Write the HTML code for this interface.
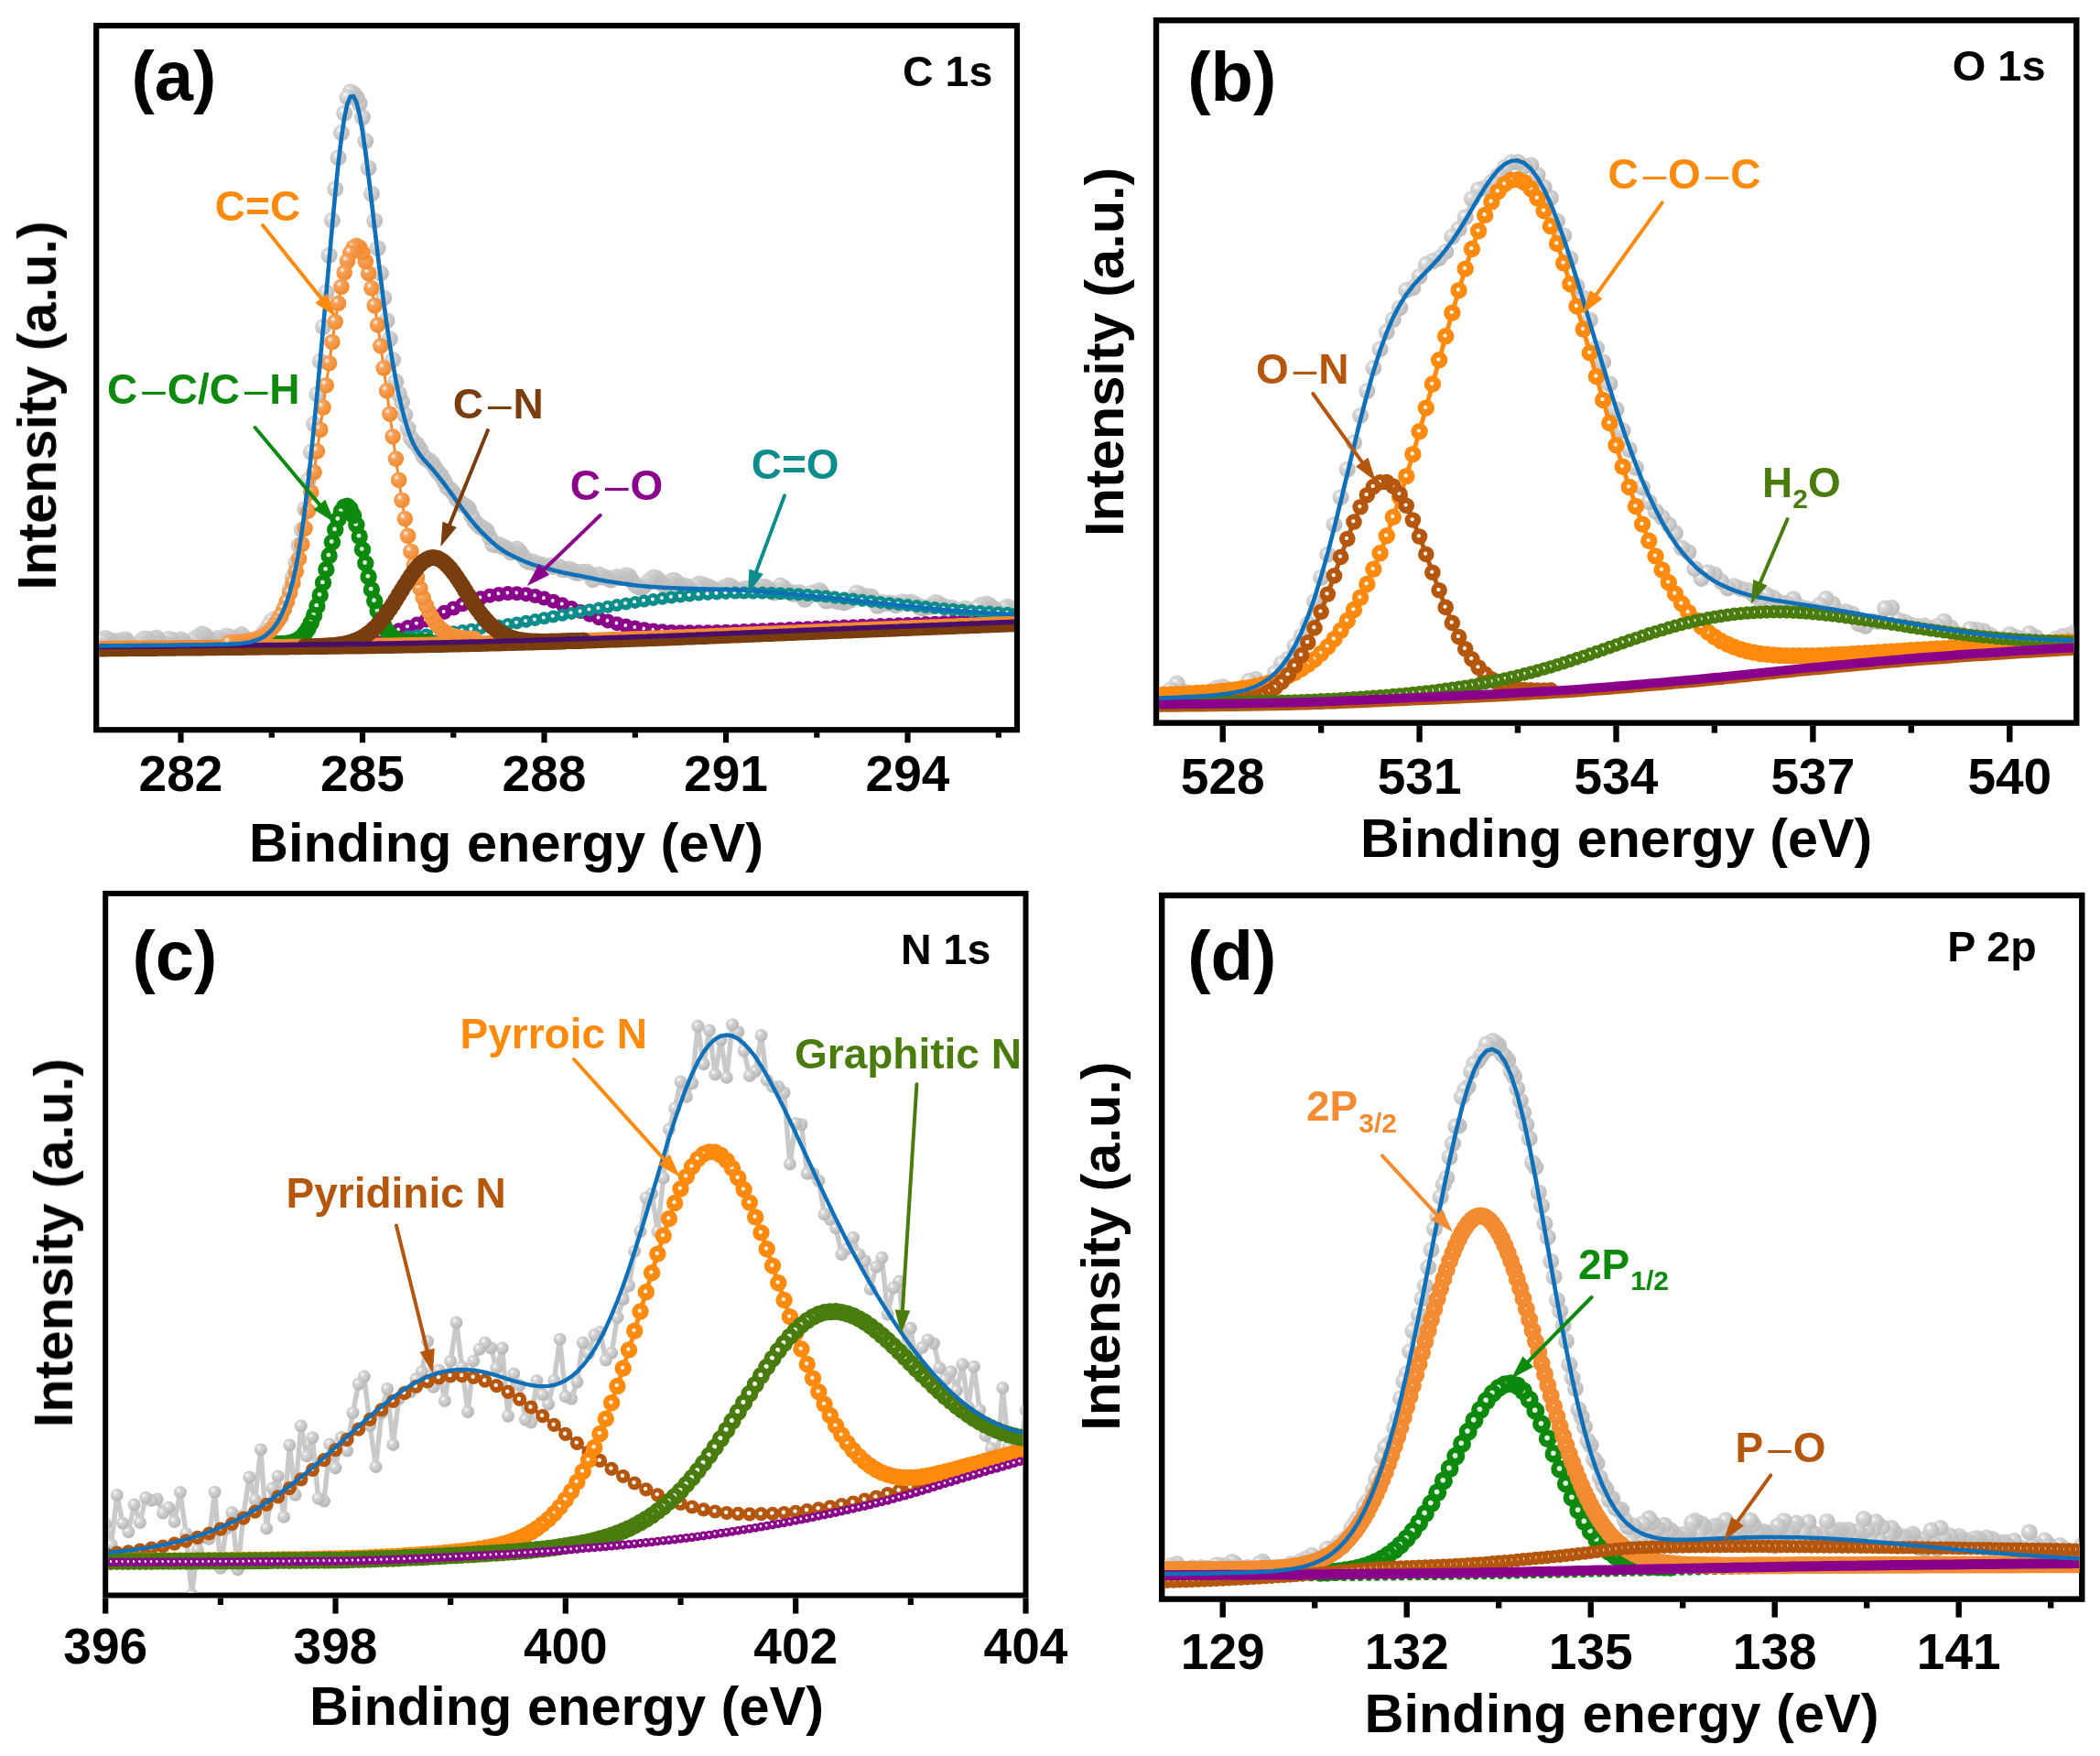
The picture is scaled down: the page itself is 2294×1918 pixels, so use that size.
<!DOCTYPE html>
<html lang="en"><head><meta charset="utf-8"><title>XPS spectra</title>
<style>html,body{margin:0;padding:0;background:#fff}svg{display:block}</style></head>
<body>
<svg width="2294" height="1918" viewBox="0 0 2294 1918" font-family="'Liberation Sans', sans-serif" font-weight="bold">
<rect width="2294" height="1918" fill="#fff"/>
<defs>
<radialGradient id="gsgrey" cx="0.36" cy="0.34" r="0.62"><stop offset="0" stop-color="#ffffff"/><stop offset="0.28" stop-color="#d8d8d8"/><stop offset="1" stop-color="#bcbcbc"/></radialGradient>
<marker id="sgrey" markerUnits="userSpaceOnUse" markerWidth="18" markerHeight="18" refX="9" refY="9" viewBox="0 0 18 18" overflow="visible"><circle cx="9" cy="9" r="9" fill="url(#gsgrey)"/></marker>
<radialGradient id="gsgreyS" cx="0.36" cy="0.34" r="0.62"><stop offset="0" stop-color="#ffffff"/><stop offset="0.28" stop-color="#d6d6d6"/><stop offset="1" stop-color="#b8b8b8"/></radialGradient>
<marker id="sgreyS" markerUnits="userSpaceOnUse" markerWidth="14" markerHeight="14" refX="7" refY="7" viewBox="0 0 14 14" overflow="visible"><circle cx="7" cy="7" r="7" fill="url(#gsgreyS)"/></marker>
<radialGradient id="gsorA" cx="0.36" cy="0.34" r="0.62"><stop offset="0" stop-color="#ffffff"/><stop offset="0.28" stop-color="#f5a25c"/><stop offset="1" stop-color="#f28b30"/></radialGradient>
<marker id="sorA" markerUnits="userSpaceOnUse" markerWidth="17.6" markerHeight="17.6" refX="8.8" refY="8.8" viewBox="0 0 17.6 17.6" overflow="visible"><circle cx="8.8" cy="8.8" r="8.8" fill="url(#gsorA)"/></marker>
<marker id="rorB" markerUnits="userSpaceOnUse" markerWidth="18.4" markerHeight="18.4" refX="9.2" refY="9.2" viewBox="0 0 18.4 18.4" overflow="visible"><circle cx="9.2" cy="9.2" r="9.2" fill="#ff8a0a"/><circle cx="8.5" cy="8.5" r="2.1" fill="#fff"/></marker>
<marker id="rbrB" markerUnits="userSpaceOnUse" markerWidth="17.6" markerHeight="17.6" refX="8.8" refY="8.8" viewBox="0 0 17.6 17.6" overflow="visible"><circle cx="8.8" cy="8.8" r="8.8" fill="#b5560f"/><circle cx="8.1" cy="8.1" r="2.1" fill="#fff"/></marker>
<marker id="rbrBs" markerUnits="userSpaceOnUse" markerWidth="15.2" markerHeight="15.2" refX="7.6" refY="7.6" viewBox="0 0 15.2 15.2" overflow="visible"><circle cx="7.6" cy="7.6" r="7.6" fill="#b5560f"/><circle cx="6.9" cy="6.9" r="2.2" fill="#fff"/></marker>
<marker id="rolv" markerUnits="userSpaceOnUse" markerWidth="14.6" markerHeight="14.6" refX="7.3" refY="7.3" viewBox="0 0 14.6 14.6" overflow="visible"><circle cx="7.3" cy="7.3" r="7.3" fill="#4a7c10"/><circle cx="6.6" cy="6.6" r="1.9" fill="#fff"/></marker>
<marker id="rolvC" markerUnits="userSpaceOnUse" markerWidth="19" markerHeight="19" refX="9.5" refY="9.5" viewBox="0 0 19 19" overflow="visible"><circle cx="9.5" cy="9.5" r="9.5" fill="#4a7c10"/><circle cx="8.8" cy="8.8" r="2.5" fill="#fff"/></marker>
<marker id="rgrA" markerUnits="userSpaceOnUse" markerWidth="18.4" markerHeight="18.4" refX="9.2" refY="9.2" viewBox="0 0 18.4 18.4" overflow="visible"><circle cx="9.2" cy="9.2" r="9.2" fill="#0a8a0a"/><circle cx="8.5" cy="8.5" r="2.4" fill="#e4f3e4"/></marker>
<marker id="rgrD" markerUnits="userSpaceOnUse" markerWidth="20" markerHeight="20" refX="10" refY="10" viewBox="0 0 20 20" overflow="visible"><circle cx="10" cy="10" r="10" fill="#0a8a0a"/><circle cx="9.3" cy="9.3" r="2.8" fill="#e4f3e4"/></marker>
<marker id="rbrA" markerUnits="userSpaceOnUse" markerWidth="18" markerHeight="18" refX="9" refY="9" viewBox="0 0 18 18" overflow="visible"><circle cx="9" cy="9" r="9" fill="#7a3e0c"/><circle cx="8.3" cy="8.3" r="0.6" fill="#c9a78c"/></marker>
<marker id="rpur" markerUnits="userSpaceOnUse" markerWidth="16" markerHeight="16" refX="8" refY="8" viewBox="0 0 16 16" overflow="visible"><circle cx="8" cy="8" r="8" fill="#8b068b"/><circle cx="7.3" cy="7.3" r="2" fill="#fff"/></marker>
<marker id="rpurS" markerUnits="userSpaceOnUse" markerWidth="9.8" markerHeight="9.8" refX="4.9" refY="4.9" viewBox="0 0 9.8 9.8" overflow="visible"><circle cx="4.9" cy="4.9" r="4.9" fill="#8b068b"/><circle cx="4.2" cy="4.2" r="1.5" fill="#fff"/></marker>
<marker id="rteal" markerUnits="userSpaceOnUse" markerWidth="14" markerHeight="14" refX="7" refY="7" viewBox="0 0 14 14" overflow="visible"><circle cx="7" cy="7" r="7" fill="#0a8c8c"/><circle cx="6.3" cy="6.3" r="2" fill="#fff"/></marker>
<marker id="rorA" markerUnits="userSpaceOnUse" markerWidth="19" markerHeight="19" refX="9.5" refY="9.5" viewBox="0 0 19 19" overflow="visible"><circle cx="9.5" cy="9.5" r="9.5" fill="#f28b30"/><circle cx="8.8" cy="8.8" r="0.9" fill="#fbe3cf"/></marker>
<marker id="rbrD" markerUnits="userSpaceOnUse" markerWidth="14.6" markerHeight="14.6" refX="7.3" refY="7.3" viewBox="0 0 14.6 14.6" overflow="visible"><circle cx="7.3" cy="7.3" r="7.3" fill="#b5560f"/><circle cx="6.6" cy="6.6" r="1.9" fill="#fff"/></marker>
<filter id="soft" filterUnits="userSpaceOnUse" x="0" y="0" width="2294" height="1918"><feGaussianBlur stdDeviation="0.75"/></filter>
</defs>
<g filter="url(#soft)">
<g id="panel-a">
<rect x="105.2" y="28" width="1005.8" height="769.2" fill="#fff" stroke="#000" stroke-width="6.2"/>
<clipPath id="clipA"><rect x="108.2" y="31" width="999.8" height="763.2"/></clipPath>
<g clip-path="url(#clipA)">
<polyline points="1110.6,667.2 1107.3,669.1 1104,666.2 1100.7,662.4 1097.4,664.2 1094.1,669.7 1090.8,670.2 1087.5,665.9 1084.2,663.7 1080.9,661 1077.6,659.6 1074.3,660.8 1070.9,661 1067.6,663.8 1064.3,670 1061,670.8 1057.7,666.9 1054.4,664.4 1051.1,666.5 1047.8,671.8 1044.5,670.1 1041.2,664.3 1037.9,663.4 1034.6,663.7 1031.2,662.3 1027.9,661 1024.6,658.8 1021.3,658 1018,661.2 1014.7,663.1 1011.4,663.1 1008.1,664.5 1004.8,663.6 1001.5,660.7 998.2,659.3 994.8,657.4 991.5,658.3 988.2,658.5 984.9,657.2 981.6,660.2 978.3,661.2 975,659.1 971.7,658.6 968.4,659 965.1,658 961.8,660.2 958.5,661.8 955.1,655.5 951.8,651.5 948.5,651.4 945.2,651.2 941.9,651.9 938.6,648.6 935.3,647.8 932,653.6 928.7,655.6 925.4,656.9 922.1,658.4 918.8,657.2 915.4,657.2 912.1,656 908.8,654 905.5,656 902.2,656.4 898.9,649.7 895.6,645 892.3,646.2 889,647.2 885.7,647.9 882.4,651.7 879.1,654.8 875.7,650.8 872.4,646.7 869.1,648.4 865.8,648.7 862.5,646.5 859.2,645.9 855.9,641.8 852.6,639.5 849.3,644.6 846,647.4 842.7,646.4 839.3,643.2 836,640.9 832.7,640.7 829.4,641.5 826.1,642.7 822.8,643.7 819.5,644.7 816.2,642.9 812.9,643.1 809.6,645 806.3,644.6 803,644.2 799.6,641 796.3,639.2 793,640.6 789.7,641.9 786.4,644.6 783.1,646 779.8,644.3 776.5,642.1 773.2,640.5 769.9,639.6 766.6,638.3 763.3,637.6 759.9,640 756.6,644.8 753.3,644.8 750,640.2 746.7,639.4 743.4,639.9 740.1,636.8 736.8,633.8 733.5,634.3 730.2,637 726.9,639.4 723.6,638.2 720.2,634.3 716.9,631.3 713.6,630.8 710.3,633.6 707,636.3 703.7,639.9 700.4,642.4 697.1,641.1 693.8,638.8 690.5,634.5 687.2,629.3 683.8,628.3 680.5,630.6 677.2,631.2 673.9,630.1 670.6,631.2 667.3,633.6 664,631.9 660.7,630.2 657.4,630.4 654.1,627.4 650.8,630.1 647.5,633.2 644.1,627.1 640.8,624.5 637.5,624.9 634.2,624.7 630.9,626.1 627.6,625 624.3,622.3 621,621.4 617.7,622.2 614.4,622 611.1,619.2 607.8,618.1 604.4,619 601.1,617.8 597.8,618.4 594.5,618.8 591.2,616.6 587.9,616.3 584.6,615.1 581.3,613.3 578,613.8 574.7,612.1 571.4,607.9 568.1,602.9 564.7,599.6 561.4,601.7 558.1,603.4 554.8,600 551.5,597.7 548.2,596.8 544.9,594.7 541.6,595.5 538.3,594.6 535,587 531.7,579.8 528.4,577.2 525,575.8 521.7,572.9 518.4,569.5 515.1,563.3 511.8,555.3 508.5,552.5 505.2,551 501.9,547.8 498.6,544.3 495.3,538.3 492,534.7 488.6,532.2 485.3,525.7 482,519.7 478.7,516.2 475.4,511.3 472.1,506.2 468.8,502.9 465.5,501.5 462.2,497.9 458.9,490.9 455.6,485.6 452.3,483 448.9,478.3 445.6,468.1 442.3,453.1 439,439.1 435.7,430.2 432.4,416.8 429.1,393.1 425.8,370.2 422.5,350.2 419.2,325.4 415.9,298.5 412.6,271.2 409.2,241.1 405.9,211.7 402.6,183.7 399.3,154 396,128.1 392.7,113.1 389.4,106.2 386.1,102.3 382.8,100.4 379.5,106.3 376.2,123.7 372.9,145 369.5,172.2 366.2,206.4 362.9,240.6 359.6,278.8 356.3,319.4 353,356.9 349.7,394.5 346.4,430.6 343.1,463.1 339.8,493.8 336.5,524.8 333.1,555.9 329.8,578.6 326.5,595.7 323.2,614.8 319.9,630.4 316.6,643.9 313.3,657 310,665.7 306.7,674 303.4,677.4 300.1,676.1 296.8,678.2 293.4,683.4 290.1,688.9 286.8,692.8 283.5,698.2 280.2,701.9 276.9,702.2 273.6,702.5 270.3,701.6 267,696.5 263.7,693.1 260.4,695.6 257.1,696.8 253.7,696.5 250.4,695.6 247.1,694.5 243.8,698 240.5,699.5 237.2,696.9 233.9,699.5 230.6,701.9 227.3,698.2 224,693.9 220.7,692.3 217.4,694.8 214,696.6 210.7,699.4 207.4,705.3 204.1,705 200.8,700.3 197.5,698.5 194.2,700.4 190.9,701.6 187.6,698.8 184.3,697.9 181,702.4 177.6,705.1 174.3,701.1 171,696.6 167.7,698.3 164.4,700.5 161.1,698 157.8,697.6 154.5,699.8 151.2,703.3 147.9,707.1 144.6,707.1 141.3,703.3 137.9,698.8 134.6,698.7 131.3,700.2 128,700 124.7,700.3 121.4,700.4 118.1,698.3 114.8,696.9 111.5,700.3 108.2,705.4 104.9,707.1" fill="none" stroke="#c6c6c6" stroke-width="3" stroke-linejoin="round" marker-start="url(#sgrey)" marker-mid="url(#sgrey)" marker-end="url(#sgrey)"/>
<polyline points="1110.6,677.2 1100.7,677.6 1090.8,678 1080.9,678.3 1070.9,678.7 1061,679.1 1051.1,679.5 1041.2,679.9 1031.2,680.3 1021.3,680.7 1011.4,681.1 1001.5,681.5 991.5,681.9 981.6,682.3 971.7,682.7 961.8,683 951.8,683.4 941.9,683.8 932,684.2 922.1,684.6 912.1,685 902.2,685.4 892.3,685.8 882.4,686.2 872.4,686.6 862.5,687 852.6,687.4 842.7,687.8 832.7,688.2 822.8,688.6 812.9,689 803,689.4 793,689.7 783.1,690 773.2,690.2 763.3,690.3 753.3,690.3 743.4,690.2 733.5,689.9 723.6,689.3 713.6,688.4 703.7,687.2 693.8,685.6 683.8,683.6 673.9,681.2 664,678.4 654.1,675.2 644.1,671.7 634.2,667.9 624.3,664.1 614.4,660.3 604.4,656.7 594.5,653.6 584.6,651 574.7,649.2 564.7,648.2 554.8,648.1 544.9,649 535,650.7 525,653.3 515.1,656.5 505.2,660.3 495.3,664.5 485.3,668.8 475.4,673.2 465.5,677.4 455.6,681.4 445.6,685 435.7,688.3 425.8,691.1 415.9,693.5" fill="none" stroke="#8b068b" stroke-width="3" stroke-linejoin="round" marker-start="url(#rpur)" marker-mid="url(#rpur)" marker-end="url(#rpur)"/>
<polyline points="1110.6,670.1 1100.7,669.7 1090.8,669.2 1080.9,668.6 1070.9,668 1061,667.4 1051.1,666.6 1041.2,665.8 1031.2,665 1021.3,664.1 1011.4,663.1 1001.5,662.1 991.5,661.1 981.6,660 971.7,659 961.8,657.9 951.8,656.8 941.9,655.7 932,654.6 922.1,653.6 912.1,652.6 902.2,651.6 892.3,650.8 882.4,650 872.4,649.3 862.5,648.7 852.6,648.2 842.7,647.8 832.7,647.6 822.8,647.5 812.9,647.5 803,647.6 793,647.9 783.1,648.4 773.2,648.9 763.3,649.6 753.3,650.5 743.4,651.5 733.5,652.5 723.6,653.8 713.6,655.1 703.7,656.5 693.8,657.9 683.8,659.5 673.9,661.1 664,662.8 654.1,664.6 644.1,666.3 634.2,668.1 624.3,669.9 614.4,671.7 604.4,673.5 594.5,675.3 584.6,677.1 574.7,678.8 564.7,680.4 554.8,682 544.9,683.5 535,685 525,686.4 515.1,687.8 505.2,689 495.3,690.2 485.3,691.4 475.4,692.4 465.5,693.4 455.6,694.3 445.6,695.2" fill="none" stroke="#0a8c8c" stroke-width="3" stroke-linejoin="round" marker-start="url(#rteal)" marker-mid="url(#rteal)" marker-end="url(#rteal)"/>
<polyline points="104.9,709 108.2,708.9 111.5,708.9 114.8,708.9 118.1,708.8 121.4,708.8 124.7,708.8 128,708.8 131.3,708.7 134.6,708.7 137.9,708.7 141.3,708.6 144.6,708.6 147.9,708.6 151.2,708.5 154.5,708.5 157.8,708.5 161.1,708.5 164.4,708.4 167.7,708.4 171,708.4 174.3,708.3 177.6,708.3 181,708.3 184.3,708.2 187.6,708.2 190.9,708.2 194.2,708.1 197.5,708.1 200.8,708.1 204.1,708 207.4,708 210.7,708 214,707.9 217.4,707.9 220.7,707.9 224,707.8 227.3,707.8 230.6,707.8 233.9,707.7 237.2,707.7 240.5,707.6 243.8,707.6 247.1,707.6 250.4,707.5 253.7,707.5 257.1,707.5 260.4,707.4 263.7,707.4 267,707.4 270.3,707.3 273.6,707.3 276.9,707.3 280.2,707.2 283.5,707.2 286.8,707.1 290.1,707.1 293.4,707.1 296.8,707 300.1,707 303.4,707 306.7,706.9 310,706.9 313.3,706.9 316.6,706.8 319.9,706.8 323.2,706.7 326.5,706.7 329.8,706.7 333.1,706.6 336.5,706.6 339.8,706.6 343.1,706.5 346.4,706.5 349.7,706.4 353,706.4 356.3,706.4 359.6,706.3 362.9,706.3 366.2,706.2 369.5,706.2 372.9,706.2 376.2,706.1 379.5,706.1 382.8,706 386.1,706 389.4,705.9 392.7,705.9 396,705.9 399.3,705.8 402.6,705.8 405.9,705.7 409.2,705.7 412.6,705.6 415.9,705.6 419.2,705.5 422.5,705.5 425.8,705.4 429.1,705.4 432.4,705.3 435.7,705.2 439,705.2 442.3,705.1 445.6,705.1 448.9,705 452.3,704.9 455.6,704.9 458.9,704.8 462.2,704.8 465.5,704.7 468.8,704.6 472.1,704.6 475.4,704.5 478.7,704.4 482,704.4 485.3,704.3 488.6,704.2 492,704.1 495.3,704.1 498.6,704 501.9,703.9 505.2,703.8 508.5,703.8 511.8,703.7 515.1,703.6 518.4,703.5 521.7,703.5 525,703.4 528.4,703.3 531.7,703.2 535,703.1 538.3,703 541.6,703 544.9,702.9 548.2,702.8 551.5,702.7 554.8,702.6 558.1,702.5 561.4,702.4 564.7,702.3 568.1,702.2 571.4,702.2 574.7,702.1 578,702 581.3,701.9 584.6,701.8 587.9,701.7 591.2,701.6 594.5,701.5 597.8,701.4 601.1,701.3 604.4,701.2 607.8,701.1 611.1,701 614.4,700.9 617.7,700.8 621,700.6 624.3,700.5 627.6,700.4 630.9,700.3 634.2,700.2 637.5,700.1 640.8,700 644.1,699.9 647.5,699.8 650.8,699.7 654.1,699.6 657.4,699.5 660.7,699.3 664,699.2 667.3,699.1 670.6,699 673.9,698.9 677.2,698.8 680.5,698.7 683.8,698.6 687.2,698.4 690.5,698.3 693.8,698.2 697.1,698.1 700.4,698 703.7,697.9 707,697.8 710.3,697.6 713.6,697.5 716.9,697.4 720.2,697.3 723.6,697.2 726.9,697 730.2,696.9 733.5,696.8 736.8,696.7 740.1,696.5 743.4,696.4 746.7,696.3 750,696.1 753.3,696 756.6,695.9 759.9,695.8 763.3,695.6 766.6,695.5 769.9,695.4 773.2,695.2 776.5,695.1 779.8,695 783.1,694.8 786.4,694.7 789.7,694.6 793,694.4 796.3,694.3 799.6,694.1 803,694 806.3,693.9 809.6,693.7 812.9,693.6 816.2,693.5 819.5,693.3 822.8,693.2 826.1,693 829.4,692.9 832.7,692.8 836,692.6 839.3,692.5 842.7,692.4 846,692.2 849.3,692.1 852.6,691.9 855.9,691.8 859.2,691.7 862.5,691.5 865.8,691.4 869.1,691.3 872.4,691.1 875.7,691 879.1,690.8 882.4,690.7 885.7,690.6 889,690.4 892.3,690.3 895.6,690.2 898.9,690 902.2,689.9 905.5,689.8 908.8,689.6 912.1,689.5 915.4,689.4 918.8,689.3 922.1,689.1 925.4,689 928.7,688.9 932,688.7 935.3,688.6 938.6,688.5 941.9,688.3 945.2,688.2 948.5,688.1 951.8,687.9 955.1,687.8 958.5,687.7 961.8,687.5 965.1,687.4 968.4,687.3 971.7,687.2 975,687 978.3,686.9 981.6,686.8 984.9,686.6 988.2,686.5 991.5,686.4 994.8,686.2 998.2,686.1 1001.5,686 1004.8,685.8 1008.1,685.7 1011.4,685.6 1014.7,685.5 1018,685.3 1021.3,685.2 1024.6,685.1 1027.9,684.9 1031.2,684.8 1034.6,684.7 1037.9,684.5 1041.2,684.4 1044.5,684.3 1047.8,684.1 1051.1,684 1054.4,683.9 1057.7,683.8 1061,683.6 1064.3,683.5 1067.6,683.4 1070.9,683.2 1074.3,683.1 1077.6,683 1080.9,682.8 1084.2,682.7 1087.5,682.6 1090.8,682.5 1094.1,682.3 1097.4,682.2 1100.7,682.1 1104,681.9 1107.3,681.8 1110.6,681.7" fill="none" stroke="#0a8a0a" stroke-width="6" stroke-linejoin="round" stroke-linecap="round" />
<polyline points="468.8,701.1 465.5,701.2 462.2,701.2 458.9,701.3 455.6,701.3 452.3,701.3 448.9,701.2 445.6,701 442.3,700.7 439,700.2 435.7,699.3 432.4,697.9 429.1,695.8 425.8,692.8 422.5,688.7 419.2,683.2 415.9,676 412.6,667.1 409.2,656.4 405.9,643.9 402.6,630 399.3,615.2 396,600.3 392.7,585.9 389.4,573.2 386.1,562.9 382.8,555.9 379.5,552.7 376.2,553.6 372.9,558.5 369.5,567.1 366.2,578.6 362.9,592.2 359.6,606.9 356.3,622 353,636.6 349.7,650 346.4,661.9 343.1,672 339.8,680.2 336.5,686.8 333.1,691.8 329.8,695.5 326.5,698.1 323.2,700 319.9,701.3 316.6,702.1 313.3,702.6 310,703 306.7,703.2 303.4,703.3 300.1,703.4" fill="none" stroke="#0a8a0a" stroke-width="4" stroke-linejoin="round" marker-start="url(#rgrA)" marker-mid="url(#rgrA)" marker-end="url(#rgrA)"/>
<polyline points="104.9,702.5 108.2,702.4 111.5,702.4 114.8,702.4 118.1,702.3 121.4,702.3 124.7,702.3 128,702.3 131.3,702.2 134.6,702.2 137.9,702.2 141.3,702.1 144.6,702.1 147.9,702.1 151.2,702 154.5,702 157.8,702 161.1,702 164.4,701.9 167.7,701.9 171,701.9 174.3,701.8 177.6,701.8 181,701.8 184.3,701.7 187.6,701.7 190.9,701.7 194.2,701.6 197.5,701.6 200.8,701.6 204.1,701.5 207.4,701.5 210.7,701.5 214,701.4 217.4,701.4 220.7,701.4 224,701.3 227.3,701.3 230.6,701.3 233.9,701.2 237.2,701.2 240.5,701.1 243.8,701.1 247.1,701.1 250.4,701 253.7,701 257.1,701 260.4,700.9 263.7,700.9 267,700.9 270.3,700.8 273.6,700.8 276.9,700.8 280.2,700.7 283.5,700.7 286.8,700.6 290.1,700.6 293.4,700.6 296.8,700.5 300.1,700.5 303.4,700.5 306.7,700.4 310,700.4 313.3,700.4 316.6,700.3 319.9,700.3 323.2,700.2 326.5,700.2 329.8,700.2 333.1,700.1 336.5,700.1 339.8,700.1 343.1,700 346.4,700 349.7,699.9 353,699.9 356.3,699.9 359.6,699.8 362.9,699.8 366.2,699.7 369.5,699.7 372.9,699.7 376.2,699.6 379.5,699.6 382.8,699.5 386.1,699.5 389.4,699.4 392.7,699.4 396,699.4 399.3,699.3 402.6,699.3 405.9,699.2 409.2,699.2 412.6,699.1 415.9,699.1 419.2,699 422.5,699 425.8,698.9 429.1,698.9 432.4,698.8 435.7,698.7 439,698.7 442.3,698.6 445.6,698.6 448.9,698.5 452.3,698.4 455.6,698.4 458.9,698.3 462.2,698.3 465.5,698.2 468.8,698.1 472.1,698.1 475.4,698 478.7,697.9 482,697.9 485.3,697.8 488.6,697.7 492,697.6 495.3,697.6 498.6,697.5 501.9,697.4 505.2,697.3 508.5,697.3 511.8,697.2 515.1,697.1 518.4,697 521.7,697 525,696.9 528.4,696.8 531.7,696.7 535,696.6 538.3,696.5 541.6,696.5 544.9,696.4 548.2,696.3 551.5,696.2 554.8,696.1 558.1,696 561.4,695.9 564.7,695.8 568.1,695.7 571.4,695.7 574.7,695.6 578,695.5 581.3,695.4 584.6,695.3 587.9,695.2 591.2,695.1 594.5,695 597.8,694.9 601.1,694.8 604.4,694.7 607.8,694.6 611.1,694.5 614.4,694.4 617.7,694.3 621,694.1 624.3,694 627.6,693.9 630.9,693.8 634.2,693.7 637.5,693.6 640.8,693.5 644.1,693.4 647.5,693.3 650.8,693.2 654.1,693.1 657.4,693 660.7,692.8 664,692.7 667.3,692.6 670.6,692.5 673.9,692.4 677.2,692.3 680.5,692.2 683.8,692.1 687.2,691.9 690.5,691.8 693.8,691.7 697.1,691.6 700.4,691.5 703.7,691.4 707,691.3 710.3,691.1 713.6,691 716.9,690.9 720.2,690.8 723.6,690.7 726.9,690.5 730.2,690.4 733.5,690.3 736.8,690.2 740.1,690 743.4,689.9 746.7,689.8 750,689.6 753.3,689.5 756.6,689.4 759.9,689.3 763.3,689.1 766.6,689 769.9,688.9 773.2,688.7 776.5,688.6 779.8,688.5 783.1,688.3 786.4,688.2 789.7,688.1 793,687.9 796.3,687.8 799.6,687.6 803,687.5 806.3,687.4 809.6,687.2 812.9,687.1 816.2,687 819.5,686.8 822.8,686.7 826.1,686.5 829.4,686.4 832.7,686.3 836,686.1 839.3,686 842.7,685.9 846,685.7 849.3,685.6 852.6,685.4 855.9,685.3 859.2,685.2 862.5,685 865.8,684.9 869.1,684.8 872.4,684.6 875.7,684.5 879.1,684.3 882.4,684.2 885.7,684.1 889,683.9 892.3,683.8 895.6,683.7 898.9,683.5 902.2,683.4 905.5,683.3 908.8,683.1 912.1,683 915.4,682.9 918.8,682.8 922.1,682.6 925.4,682.5 928.7,682.4 932,682.2 935.3,682.1 938.6,682 941.9,681.8 945.2,681.7 948.5,681.6 951.8,681.4 955.1,681.3 958.5,681.2 961.8,681 965.1,680.9 968.4,680.8 971.7,680.7 975,680.5 978.3,680.4 981.6,680.3 984.9,680.1 988.2,680 991.5,679.9 994.8,679.7 998.2,679.6 1001.5,679.5 1004.8,679.3 1008.1,679.2 1011.4,679.1 1014.7,679 1018,678.8 1021.3,678.7 1024.6,678.6 1027.9,678.4 1031.2,678.3 1034.6,678.2 1037.9,678 1041.2,677.9 1044.5,677.8 1047.8,677.6 1051.1,677.5 1054.4,677.4 1057.7,677.3 1061,677.1 1064.3,677 1067.6,676.9 1070.9,676.7 1074.3,676.6 1077.6,676.5 1080.9,676.3 1084.2,676.2 1087.5,676.1 1090.8,676 1094.1,675.8 1097.4,675.7 1100.7,675.6 1104,675.4 1107.3,675.3 1110.6,675.2" fill="none" stroke="#f28b30" stroke-width="5" stroke-linejoin="round" stroke-linecap="round" />
<polyline points="518.4,697.6 515.1,697.6 511.8,697.4 508.5,697.2 505.2,696.8 501.9,696.3 498.6,695.6 495.3,694.7 492,693.5 488.6,691.9 485.3,689.8 482,687.2 478.7,683.9 475.4,679.8 472.1,674.8 468.8,668.7 465.5,661.4 462.2,652.8 458.9,642.6 455.6,630.9 452.3,617.5 448.9,602.3 445.6,585.3 442.3,566.6 439,546.2 435.7,524.3 432.4,501.1 429.1,476.9 425.8,452.1 422.5,426.9 419.2,402 415.9,377.9 412.6,354.9 409.2,333.7 405.9,314.7 402.6,298.6 399.3,285.5 396,276 392.7,270.3 389.4,268.4 386.1,270.5 382.8,276.1 379.5,285.3 376.2,297.8 372.9,313.2 369.5,331.3 366.2,351.5 362.9,373.5 359.6,396.7 356.3,420.7 353,445 349.7,469.2 346.4,492.9 343.1,515.8 339.8,537.6 336.5,558.1 333.1,577.1 329.8,594.5 326.5,610.2 323.2,624.3 319.9,636.8 316.6,647.8 313.3,657.2 310,665.4 306.7,672.3 303.4,678 300.1,682.9 296.8,686.8 293.4,690.1 290.1,692.7 286.8,694.8 283.5,696.5 280.2,697.8 276.9,698.8 273.6,699.6 270.3,700.2 267,700.7 263.7,701 260.4,701.3 257.1,701.5 253.7,701.7 250.4,701.8" fill="none" stroke="#f28b30" stroke-width="3" stroke-linejoin="round" marker-start="url(#sorA)" marker-mid="url(#sorA)" marker-end="url(#sorA)"/>
<polyline points="104.9,711.5 108.2,711.4 111.5,711.4 114.8,711.4 118.1,711.3 121.4,711.3 124.7,711.3 128,711.3 131.3,711.2 134.6,711.2 137.9,711.2 141.3,711.1 144.6,711.1 147.9,711.1 151.2,711 154.5,711 157.8,711 161.1,711 164.4,710.9 167.7,710.9 171,710.9 174.3,710.8 177.6,710.8 181,710.8 184.3,710.7 187.6,710.7 190.9,710.7 194.2,710.6 197.5,710.6 200.8,710.6 204.1,710.5 207.4,710.5 210.7,710.5 214,710.4 217.4,710.4 220.7,710.4 224,710.3 227.3,710.3 230.6,710.3 233.9,710.2 237.2,710.2 240.5,710.1 243.8,710.1 247.1,710.1 250.4,710 253.7,710 257.1,710 260.4,709.9 263.7,709.9 267,709.9 270.3,709.8 273.6,709.8 276.9,709.8 280.2,709.7 283.5,709.7 286.8,709.6 290.1,709.6 293.4,709.6 296.8,709.5 300.1,709.5 303.4,709.5 306.7,709.4 310,709.4 313.3,709.4 316.6,709.3 319.9,709.3 323.2,709.2 326.5,709.2 329.8,709.2 333.1,709.1 336.5,709.1 339.8,709.1 343.1,709 346.4,709 349.7,708.9 353,708.9 356.3,708.9 359.6,708.8 362.9,708.8 366.2,708.7 369.5,708.7 372.9,708.7 376.2,708.6 379.5,708.6 382.8,708.5 386.1,708.5 389.4,708.4 392.7,708.4 396,708.4 399.3,708.3 402.6,708.3 405.9,708.2 409.2,708.2 412.6,708.1 415.9,708.1 419.2,708 422.5,708 425.8,707.9 429.1,707.9 432.4,707.8 435.7,707.7 439,707.7 442.3,707.6 445.6,707.6 448.9,707.5 452.3,707.4 455.6,707.4 458.9,707.3 462.2,707.3 465.5,707.2 468.8,707.1 472.1,707.1 475.4,707 478.7,706.9 482,706.9 485.3,706.8 488.6,706.7 492,706.6 495.3,706.6 498.6,706.5 501.9,706.4 505.2,706.3 508.5,706.3 511.8,706.2 515.1,706.1 518.4,706 521.7,706 525,705.9 528.4,705.8 531.7,705.7 535,705.6 538.3,705.5 541.6,705.5 544.9,705.4 548.2,705.3 551.5,705.2 554.8,705.1 558.1,705 561.4,704.9 564.7,704.8 568.1,704.7 571.4,704.7 574.7,704.6 578,704.5 581.3,704.4 584.6,704.3 587.9,704.2 591.2,704.1 594.5,704 597.8,703.9 601.1,703.8 604.4,703.7 607.8,703.6 611.1,703.5 614.4,703.4 617.7,703.3 621,703.1 624.3,703 627.6,702.9 630.9,702.8 634.2,702.7 637.5,702.6 640.8,702.5 644.1,702.4 647.5,702.3 650.8,702.2 654.1,702.1 657.4,702 660.7,701.8 664,701.7 667.3,701.6 670.6,701.5 673.9,701.4 677.2,701.3 680.5,701.2 683.8,701.1 687.2,700.9 690.5,700.8 693.8,700.7 697.1,700.6 700.4,700.5 703.7,700.4 707,700.3 710.3,700.1 713.6,700 716.9,699.9 720.2,699.8 723.6,699.7 726.9,699.5 730.2,699.4 733.5,699.3 736.8,699.2 740.1,699 743.4,698.9 746.7,698.8 750,698.6 753.3,698.5 756.6,698.4 759.9,698.3 763.3,698.1 766.6,698 769.9,697.9 773.2,697.7 776.5,697.6 779.8,697.5 783.1,697.3 786.4,697.2 789.7,697.1 793,696.9 796.3,696.8 799.6,696.6 803,696.5 806.3,696.4 809.6,696.2 812.9,696.1 816.2,696 819.5,695.8 822.8,695.7 826.1,695.5 829.4,695.4 832.7,695.3 836,695.1 839.3,695 842.7,694.9 846,694.7 849.3,694.6 852.6,694.4 855.9,694.3 859.2,694.2 862.5,694 865.8,693.9 869.1,693.8 872.4,693.6 875.7,693.5 879.1,693.3 882.4,693.2 885.7,693.1 889,692.9 892.3,692.8 895.6,692.7 898.9,692.5 902.2,692.4 905.5,692.3 908.8,692.1 912.1,692 915.4,691.9 918.8,691.8 922.1,691.6 925.4,691.5 928.7,691.4 932,691.2 935.3,691.1 938.6,691 941.9,690.8 945.2,690.7 948.5,690.6 951.8,690.4 955.1,690.3 958.5,690.2 961.8,690 965.1,689.9 968.4,689.8 971.7,689.7 975,689.5 978.3,689.4 981.6,689.3 984.9,689.1 988.2,689 991.5,688.9 994.8,688.7 998.2,688.6 1001.5,688.5 1004.8,688.3 1008.1,688.2 1011.4,688.1 1014.7,688 1018,687.8 1021.3,687.7 1024.6,687.6 1027.9,687.4 1031.2,687.3 1034.6,687.2 1037.9,687 1041.2,686.9 1044.5,686.8 1047.8,686.6 1051.1,686.5 1054.4,686.4 1057.7,686.3 1061,686.1 1064.3,686 1067.6,685.9 1070.9,685.7 1074.3,685.6 1077.6,685.5 1080.9,685.3 1084.2,685.2 1087.5,685.1 1090.8,685 1094.1,684.8 1097.4,684.7 1100.7,684.6 1104,684.4 1107.3,684.3 1110.6,684.2" fill="none" stroke="#7a3e0c" stroke-width="12" stroke-linejoin="round" stroke-linecap="round" />
<polyline points="637.5,699.6 634.2,699.7 630.9,699.8 627.6,699.9 624.3,700 621,700.1 617.7,700.2 614.4,700.3 611.1,700.4 607.8,700.5 604.4,700.6 601.1,700.6 597.8,700.7 594.5,700.7 591.2,700.7 587.9,700.6 584.6,700.6 581.3,700.4 578,700.2 574.7,699.9 571.4,699.5 568.1,699 564.7,698.4 561.4,697.5 558.1,696.5 554.8,695.3 551.5,693.8 548.2,692 544.9,689.9 541.6,687.5 538.3,684.7 535,681.6 531.7,678.1 528.4,674.3 525,670.1 521.7,665.6 518.4,660.8 515.1,655.8 511.8,650.6 508.5,645.4 505.2,640.1 501.9,635 498.6,630 495.3,625.4 492,621.2 488.6,617.4 485.3,614.3 482,611.9 478.7,610.1 475.4,609.2 472.1,609.1 468.8,609.8 465.5,611.3 462.2,613.5 458.9,616.5 455.6,620.1 452.3,624.2 448.9,628.8 445.6,633.8 442.3,639 439,644.3 435.7,649.7 432.4,655.1 429.1,660.3 425.8,665.3 422.5,670.1 419.2,674.6 415.9,678.7 412.6,682.5 409.2,685.9 405.9,689 402.6,691.7 399.3,694.1 396,696.1 392.7,697.9 389.4,699.3 386.1,700.6 382.8,701.7 379.5,702.5 376.2,703.2 372.9,703.8 369.5,704.3 366.2,704.7 362.9,705 359.6,705.2 356.3,705.4 353,705.6 349.7,705.7 346.4,705.8 343.1,705.9 339.8,706 336.5,706 333.1,706.1" fill="none" stroke="#7a3e0c" stroke-width="12" stroke-linejoin="round" marker-start="url(#rbrA)" marker-mid="url(#rbrA)" marker-end="url(#rbrA)"/>
<polyline points="104.9,706.5 108.2,706.4 111.5,706.4 114.8,706.4 118.1,706.3 121.4,706.3 124.7,706.3 128,706.3 131.3,706.2 134.6,706.2 137.9,706.2 141.3,706.1 144.6,706.1 147.9,706.1 151.2,706 154.5,706 157.8,706 161.1,706 164.4,705.9 167.7,705.9 171,705.9 174.3,705.8 177.6,705.8 181,705.8 184.3,705.7 187.6,705.7 190.9,705.7 194.2,705.6 197.5,705.6 200.8,705.6 204.1,705.5 207.4,705.5 210.7,705.5 214,705.4 217.4,705.4 220.7,705.4 224,705.3 227.3,705.3 230.6,705.3 233.9,705.2 237.2,705.2 240.5,705.1 243.8,705.1 247.1,705.1 250.4,705 253.7,705 257.1,705 260.4,704.9 263.7,704.9 267,704.9 270.3,704.8 273.6,704.8 276.9,704.8 280.2,704.7 283.5,704.7 286.8,704.6 290.1,704.6 293.4,704.6 296.8,704.5 300.1,704.5 303.4,704.5 306.7,704.4 310,704.4 313.3,704.4 316.6,704.3 319.9,704.3 323.2,704.2 326.5,704.2 329.8,704.2 333.1,704.1 336.5,704.1 339.8,704.1 343.1,704 346.4,704 349.7,703.9 353,703.9 356.3,703.9 359.6,703.8 362.9,703.8 366.2,703.7 369.5,703.7 372.9,703.7 376.2,703.6 379.5,703.6 382.8,703.5 386.1,703.5 389.4,703.4 392.7,703.4 396,703.4 399.3,703.3 402.6,703.3 405.9,703.2 409.2,703.2 412.6,703.1 415.9,703.1 419.2,703 422.5,703 425.8,702.9 429.1,702.9 432.4,702.8 435.7,702.7 439,702.7 442.3,702.6 445.6,702.6 448.9,702.5 452.3,702.4 455.6,702.4 458.9,702.3 462.2,702.3 465.5,702.2 468.8,702.1 472.1,702.1 475.4,702 478.7,701.9 482,701.9 485.3,701.8 488.6,701.7 492,701.6 495.3,701.6 498.6,701.5 501.9,701.4 505.2,701.3 508.5,701.3 511.8,701.2 515.1,701.1 518.4,701 521.7,701 525,700.9 528.4,700.8 531.7,700.7 535,700.6 538.3,700.5 541.6,700.5 544.9,700.4 548.2,700.3 551.5,700.2 554.8,700.1 558.1,700 561.4,699.9 564.7,699.8 568.1,699.7 571.4,699.7 574.7,699.6 578,699.5 581.3,699.4 584.6,699.3 587.9,699.2 591.2,699.1 594.5,699 597.8,698.9 601.1,698.8 604.4,698.7 607.8,698.6 611.1,698.5 614.4,698.4 617.7,698.3 621,698.1 624.3,698 627.6,697.9 630.9,697.8 634.2,697.7 637.5,697.6 640.8,697.5 644.1,697.4 647.5,697.3 650.8,697.2 654.1,697.1 657.4,697 660.7,696.8 664,696.7 667.3,696.6 670.6,696.5 673.9,696.4 677.2,696.3 680.5,696.2 683.8,696.1 687.2,695.9 690.5,695.8 693.8,695.7 697.1,695.6 700.4,695.5 703.7,695.4 707,695.3 710.3,695.1 713.6,695 716.9,694.9 720.2,694.8 723.6,694.7 726.9,694.5 730.2,694.4 733.5,694.3 736.8,694.2 740.1,694 743.4,693.9 746.7,693.8 750,693.6 753.3,693.5 756.6,693.4 759.9,693.3 763.3,693.1 766.6,693 769.9,692.9 773.2,692.7 776.5,692.6 779.8,692.5 783.1,692.3 786.4,692.2 789.7,692.1 793,691.9 796.3,691.8 799.6,691.6 803,691.5 806.3,691.4 809.6,691.2 812.9,691.1 816.2,691 819.5,690.8 822.8,690.7 826.1,690.5 829.4,690.4 832.7,690.3 836,690.1 839.3,690 842.7,689.9 846,689.7 849.3,689.6 852.6,689.4 855.9,689.3 859.2,689.2 862.5,689 865.8,688.9 869.1,688.8 872.4,688.6 875.7,688.5 879.1,688.3 882.4,688.2 885.7,688.1 889,687.9 892.3,687.8 895.6,687.7 898.9,687.5 902.2,687.4 905.5,687.3 908.8,687.1 912.1,687 915.4,686.9 918.8,686.8 922.1,686.6 925.4,686.5 928.7,686.4 932,686.2 935.3,686.1 938.6,686 941.9,685.8 945.2,685.7 948.5,685.6 951.8,685.4 955.1,685.3 958.5,685.2 961.8,685 965.1,684.9 968.4,684.8 971.7,684.7 975,684.5 978.3,684.4 981.6,684.3 984.9,684.1 988.2,684 991.5,683.9 994.8,683.7 998.2,683.6 1001.5,683.5 1004.8,683.3 1008.1,683.2 1011.4,683.1 1014.7,683 1018,682.8 1021.3,682.7 1024.6,682.6 1027.9,682.4 1031.2,682.3 1034.6,682.2 1037.9,682 1041.2,681.9 1044.5,681.8 1047.8,681.6 1051.1,681.5 1054.4,681.4 1057.7,681.3 1061,681.1 1064.3,681 1067.6,680.9 1070.9,680.7 1074.3,680.6 1077.6,680.5 1080.9,680.3 1084.2,680.2 1087.5,680.1 1090.8,680 1094.1,679.8 1097.4,679.7 1100.7,679.6 1104,679.4 1107.3,679.3 1110.6,679.2" fill="none" stroke="#4a0a6a" stroke-width="5.5" stroke-linejoin="round" stroke-linecap="round" />
<polyline points="104.9,705.4 108.2,705.4 111.5,705.4 114.8,705.4 118.1,705.3 121.4,705.3 124.7,705.3 128,705.2 131.3,705.2 134.6,705.2 137.9,705.1 141.3,705.1 144.6,705.1 147.9,705 151.2,705 154.5,705 157.8,704.9 161.1,704.9 164.4,704.9 167.7,704.8 171,704.8 174.3,704.8 177.6,704.7 181,704.7 184.3,704.7 187.6,704.6 190.9,704.6 194.2,704.5 197.5,704.5 200.8,704.5 204.1,704.4 207.4,704.4 210.7,704.3 214,704.3 217.4,704.2 220.7,704.2 224,704.2 227.3,704.1 230.6,704 233.9,704 237.2,703.9 240.5,703.9 243.8,703.8 247.1,703.7 250.4,703.6 253.7,703.4 257.1,703.2 260.4,703 263.7,702.7 267,702.3 270.3,701.8 273.6,701.2 276.9,700.3 280.2,699.3 283.5,697.9 286.8,696.2 290.1,694.1 293.4,691.4 296.8,688.1 300.1,684 303.4,679.1 306.7,673.1 310,665.9 313.3,657.3 316.6,646.9 319.9,634.4 323.2,619.5 326.5,601.6 329.8,580.4 333.1,555.8 336.5,528 339.8,497.3 343.1,464.6 346.4,430.2 349.7,394.8 353,358.6 356.3,321.6 359.6,284.3 362.9,247.4 366.2,211.8 369.5,179.2 372.9,151 376.2,128.7 379.5,113.3 382.8,105.5 386.1,105.1 389.4,111.8 392.7,124.9 396,143.6 399.3,166.6 402.6,192.6 405.9,220.4 409.2,249 412.6,277.4 415.9,304.7 419.2,330.5 422.5,354.6 425.8,376.7 429.1,396.9 432.4,415.2 435.7,431.5 439,445.9 442.3,458.7 445.6,469.6 448.9,478.7 452.3,486 455.6,492 458.9,496.9 462.2,501.1 465.5,504.8 468.8,508.4 472.1,512.1 475.4,516 478.7,520 482,524.1 485.3,528.5 488.6,533 492,537.6 495.3,542.3 498.6,546.9 501.9,551.4 505.2,555.8 508.5,560.2 511.8,564.5 515.1,568.6 518.4,572.6 521.7,576.4 525,580 528.4,583.4 531.7,586.7 535,589.8 538.3,592.8 541.6,595.6 544.9,598.2 548.2,600.5 551.5,602.7 554.8,604.6 558.1,606.3 561.4,607.9 564.7,609.5 568.1,611.1 571.4,612.5 574.7,613.9 578,615.2 581.3,616.4 584.6,617.4 587.9,618.3 591.2,619.2 594.5,620.1 597.8,621 601.1,621.8 604.4,622.7 607.8,623.6 611.1,624.4 614.4,625.2 617.7,625.9 621,626.6 624.3,627.2 627.6,627.9 630.9,628.5 634.2,629.1 637.5,629.8 640.8,630.4 644.1,631.1 647.5,631.8 650.8,632.5 654.1,633.2 657.4,633.8 660.7,634.4 664,635 667.3,635.5 670.6,636 673.9,636.5 677.2,637 680.5,637.5 683.8,637.9 687.2,638.4 690.5,638.9 693.8,639.3 697.1,639.7 700.4,640 703.7,640.3 707,640.6 710.3,640.9 713.6,641.1 716.9,641.3 720.2,641.5 723.6,641.7 726.9,641.9 730.2,642 733.5,642.2 736.8,642.3 740.1,642.5 743.4,642.6 746.7,642.7 750,642.8 753.3,642.9 756.6,643 759.9,643.1 763.3,643.2 766.6,643.3 769.9,643.4 773.2,643.5 776.5,643.6 779.8,643.6 783.1,643.7 786.4,643.8 789.7,643.9 793,644 796.3,644.1 799.6,644.2 803,644.3 806.3,644.5 809.6,644.6 812.9,644.8 816.2,645 819.5,645.2 822.8,645.4 826.1,645.6 829.4,645.9 832.7,646.1 836,646.4 839.3,646.7 842.7,646.9 846,647.2 849.3,647.5 852.6,647.8 855.9,648.1 859.2,648.4 862.5,648.8 865.8,649.1 869.1,649.4 872.4,649.7 875.7,650.1 879.1,650.4 882.4,650.7 885.7,651 889,651.4 892.3,651.7 895.6,652 898.9,652.3 902.2,652.6 905.5,653 908.8,653.3 912.1,653.6 915.4,653.9 918.8,654.2 922.1,654.6 925.4,654.9 928.7,655.3 932,655.6 935.3,656 938.6,656.3 941.9,656.7 945.2,657 948.5,657.4 951.8,657.8 955.1,658.1 958.5,658.5 961.8,658.9 965.1,659.2 968.4,659.6 971.7,660 975,660.3 978.3,660.7 981.6,661 984.9,661.4 988.2,661.7 991.5,662.1 994.8,662.4 998.2,662.8 1001.5,663.1 1004.8,663.5 1008.1,663.8 1011.4,664.1 1014.7,664.4 1018,664.8 1021.3,665.1 1024.6,665.4 1027.9,665.7 1031.2,666 1034.6,666.3 1037.9,666.6 1041.2,666.8 1044.5,667.1 1047.8,667.4 1051.1,667.6 1054.4,667.9 1057.7,668.1 1061,668.4 1064.3,668.6 1067.6,668.8 1070.9,669 1074.3,669.2 1077.6,669.5 1080.9,669.6 1084.2,669.8 1087.5,670 1090.8,670.2 1094.1,670.4 1097.4,670.5 1100.7,670.7 1104,670.8 1107.3,671 1110.6,671.1" fill="none" stroke="#1170b8" stroke-width="4.6" stroke-linejoin="round" stroke-linecap="round" />
</g>
<line x1="197.5" y1="800.2" x2="197.5" y2="811.2" stroke="#000" stroke-width="6.2"/>
<line x1="396" y1="800.2" x2="396" y2="811.2" stroke="#000" stroke-width="6.2"/>
<line x1="594.5" y1="800.2" x2="594.5" y2="811.2" stroke="#000" stroke-width="6.2"/>
<line x1="793" y1="800.2" x2="793" y2="811.2" stroke="#000" stroke-width="6.2"/>
<line x1="991.5" y1="800.2" x2="991.5" y2="811.2" stroke="#000" stroke-width="6.2"/>
<line x1="296.8" y1="800.2" x2="296.8" y2="805.7" stroke="#000" stroke-width="6.2"/>
<line x1="495.3" y1="800.2" x2="495.3" y2="805.7" stroke="#000" stroke-width="6.2"/>
<line x1="693.8" y1="800.2" x2="693.8" y2="805.7" stroke="#000" stroke-width="6.2"/>
<line x1="892.3" y1="800.2" x2="892.3" y2="805.7" stroke="#000" stroke-width="6.2"/>
<line x1="1090.8" y1="800.2" x2="1090.8" y2="805.7" stroke="#000" stroke-width="6.2"/>
<text x="197.5" y="864.3" font-size="55" fill="#000" text-anchor="middle" font-weight="bold" >282</text>
<text x="396" y="864.3" font-size="55" fill="#000" text-anchor="middle" font-weight="bold" >285</text>
<text x="594.5" y="864.3" font-size="55" fill="#000" text-anchor="middle" font-weight="bold" >288</text>
<text x="793" y="864.3" font-size="55" fill="#000" text-anchor="middle" font-weight="bold" >291</text>
<text x="991.5" y="864.3" font-size="55" fill="#000" text-anchor="middle" font-weight="bold" >294</text>
<text x="553" y="941.4" font-size="59.5" fill="#000" text-anchor="middle" font-weight="bold" >Binding energy (eV)</text>
<text transform="translate(60.9,442.8) rotate(-90)" font-size="59.5" text-anchor="middle">Intensity (a.u.)</text>
<text x="143.5" y="108.7" font-size="76" fill="#000" text-anchor="start" font-weight="bold" >(a)</text>
<text x="1084.3" y="94.3" font-size="46.5" fill="#000" text-anchor="end" font-weight="bold" >C 1s</text>
<text x="234.8" y="241.4" font-size="46" fill="#ff8a0a" text-anchor="start" font-weight="bold" >C=C</text>
<line x1="287" y1="246" x2="352" y2="327.3" stroke="#ff8a0a" stroke-width="4" stroke-linecap="round"/>
<polygon points="367,346 344.3,330.9 357.2,320.5" fill="#ff8a0a"/>
<text x="117.1" y="441" font-size="46" fill="#0a8a0a" text-anchor="start" font-weight="bold" >C<tspan font-weight="normal" dx="5">–</tspan><tspan dx="1.8">C/C</tspan><tspan font-weight="normal" dx="5">–</tspan><tspan dx="1.8">H</tspan></text>
<line x1="278.6" y1="467" x2="350.3" y2="552.6" stroke="#0a8a0a" stroke-width="4" stroke-linecap="round"/>
<polygon points="365.7,571 342.7,556.4 355.3,545.8" fill="#0a8a0a"/>
<text x="494.8" y="457.2" font-size="46" fill="#7a3e0c" text-anchor="start" font-weight="bold" >C<tspan font-weight="normal" dx="5">–</tspan><tspan dx="1.8">N</tspan></text>
<line x1="532.9" y1="470" x2="490.4" y2="574.8" stroke="#7a3e0c" stroke-width="4" stroke-linecap="round"/>
<polygon points="481.4,597 483.5,569.8 498.8,576" fill="#7a3e0c"/>
<text x="622.8" y="545.7" font-size="46" fill="#8b068b" text-anchor="start" font-weight="bold" >C<tspan font-weight="normal" dx="5">–</tspan><tspan dx="1.8">O</tspan></text>
<line x1="655.7" y1="562.9" x2="593" y2="623.3" stroke="#8b068b" stroke-width="4" stroke-linecap="round"/>
<polygon points="575.7,640 588.7,616 600.1,627.9" fill="#8b068b"/>
<text x="820.7" y="522.9" font-size="46" fill="#0a8c8c" text-anchor="start" font-weight="bold" >C=O</text>
<line x1="857" y1="541.4" x2="825.4" y2="626.1" stroke="#0a8c8c" stroke-width="4" stroke-linecap="round"/>
<polygon points="817,648.6 818.4,621.4 833.8,627.1" fill="#0a8c8c"/>
</g>
<g id="panel-b">
<rect x="1263" y="22.2" width="1005.3" height="767.4" fill="#fff" stroke="#000" stroke-width="6.4"/>
<clipPath id="clipB"><rect x="1266" y="25.2" width="999.3" height="761.4"/></clipPath>
<g clip-path="url(#clipB)">
<polyline points="2266.9,690.3 2259.7,693.8 2252.6,695 2245.4,697.8 2238.2,703.7 2231.1,705.2 2223.9,695.9 2216.7,691.9 2209.6,697.8 2202.4,696.1 2195.3,692.9 2188.1,697.4 2180.9,701.4 2173.8,693.6 2166.6,689.2 2159.4,688.1 2152.3,687.2 2145.1,696.1 2138,691.9 2130.8,685.5 2123.6,678.7 2116.5,683.7 2109.3,686.6 2102.1,683.5 2095,684.1 2087.8,682.7 2080.7,679.3 2073.5,677.4 2066.3,663.8 2059.2,664.4 2052,679.1 2044.8,678.2 2037.7,684 2030.5,681.3 2023.3,670.5 2016.2,668 2009,668.3 2001.9,659.6 1994.7,654 1987.5,660.8 1980.4,665.7 1973.2,664.8 1966,662.5 1958.9,654.3 1951.7,658.8 1944.6,657.9 1937.4,653.1 1930.2,650.1 1923.1,655.6 1915.9,649.7 1908.7,644.7 1901.6,642.9 1894.4,640.3 1887.3,642.4 1880.1,635.1 1872.9,627.4 1865.8,625.3 1858.6,631.9 1851.4,621.2 1844.3,603.2 1837.1,598.5 1829.9,582.3 1822.8,573.1 1815.6,565 1808.5,558.4 1801.3,548.1 1794.1,532.4 1787,510.8 1779.8,490.9 1772.6,470.3 1765.5,447.3 1758.3,419.2 1751.2,395.5 1744,380.2 1736.8,349.7 1729.7,325.7 1722.5,312.5 1715.3,282.5 1708.2,257.2 1701,241.5 1693.9,216.1 1686.7,204.5 1679.5,191.2 1672.4,180.6 1665.2,181.4 1658,177 1650.9,177.3 1643.7,182.9 1636.5,191.5 1629.4,198.9 1622.2,205.3 1615.1,207.2 1607.9,216.9 1600.7,237.2 1593.6,250.2 1586.4,258.4 1579.2,275 1572.1,282 1564.9,285.3 1557.8,288.8 1550.6,301.8 1543.4,314.3 1536.3,317 1529.1,336.2 1521.9,348.9 1514.8,362.6 1507.6,381.3 1500.4,402 1493.3,427.1 1486.1,454 1479,483.5 1471.8,512.7 1464.6,543.2 1457.5,573 1450.3,605.5 1443.1,630.9 1436,657.1 1428.8,681.4 1421.7,694.7 1414.5,705.4 1407.3,719.8 1400.2,724.4 1393,735.1 1385.8,748.7 1378.7,749 1371.5,741.9 1364.4,743.7 1357.2,754.8 1350,758.1 1342.9,753.2 1335.7,750 1328.5,751.6 1321.4,759 1314.2,760.1 1307,756.6 1299.9,757.1 1292.7,755.1 1285.6,746.5 1278.4,753.4 1271.2,761.5 1264.1,769.1" fill="none" stroke="#c6c6c6" stroke-width="3" stroke-linejoin="round" marker-start="url(#sgrey)" marker-mid="url(#sgrey)" marker-end="url(#sgrey)"/>
<polyline points="2266.9,700.9 2259.7,701.2 2252.6,701.5 2245.4,701.8 2238.2,702.1 2231.1,702.5 2223.9,702.8 2216.7,703.2 2209.6,703.5 2202.4,703.9 2195.3,704.2 2188.1,704.6 2180.9,705 2173.8,705.4 2166.6,705.8 2159.4,706.1 2152.3,706.5 2145.1,706.9 2138,707.3 2130.8,707.7 2123.6,708.1 2116.5,708.5 2109.3,708.9 2102.1,709.4 2095,709.8 2087.8,710.2 2080.7,710.7 2073.5,711.1 2066.3,711.6 2059.2,712 2052,712.5 2044.8,712.9 2037.7,713.4 2030.5,713.8 2023.3,714.2 2016.2,714.6 2009,715 2001.9,715.3 1994.7,715.6 1987.5,715.9 1980.4,716.1 1973.2,716.2 1966,716.3 1958.9,716.3 1951.7,716.1 1944.6,715.9 1937.4,715.5 1930.2,714.8 1923.1,714 1915.9,712.8 1908.7,711.2 1901.6,709.3 1894.4,706.8 1887.3,703.8 1880.1,700.2 1872.9,695.8 1865.8,690.5 1858.6,684.4 1851.4,677.2 1844.3,668.8 1837.1,659.3 1829.9,648.4 1822.8,636.2 1815.6,622.5 1808.5,607.4 1801.3,590.7 1794.1,572.6 1787,553 1779.8,532 1772.6,509.8 1765.5,486.3 1758.3,462 1751.2,436.9 1744,411.3 1736.8,385.5 1729.7,359.8 1722.5,334.6 1715.3,310.3 1708.2,287.4 1701,266.1 1693.9,246.9 1686.7,230.3 1679.5,216.6 1672.4,206.2 1665.2,199.3 1658,196.1 1650.9,196.8 1643.7,201.1 1636.5,209.1 1629.4,220.4 1622.2,234.9 1615.1,252.2 1607.9,271.9 1600.7,293.6 1593.6,317.1 1586.4,341.7 1579.2,367.3 1572.1,393.3 1564.9,419.5 1557.8,445.6 1550.6,471.2 1543.4,496.1 1536.3,520.1 1529.1,543.1 1521.9,564.8 1514.8,585.2 1507.6,604.2 1500.4,621.8 1493.3,638 1486.1,652.7 1479,666 1471.8,678 1464.6,688.7 1457.5,698.1 1450.3,706.5 1443.1,713.8 1436,720.2 1428.8,725.8 1421.7,730.6 1414.5,734.7 1407.3,738.2 1400.2,741.2 1393,743.8 1385.8,746 1378.7,747.9 1371.5,749.5 1364.4,750.9 1357.2,752 1350,753.1 1342.9,754 1335.7,754.7 1328.5,755.4 1321.4,756 1314.2,756.6 1307,757 1299.9,757.5 1292.7,757.9 1285.6,758.2 1278.4,758.5 1271.2,758.8 1264.1,759.1" fill="none" stroke="#ff8a0a" stroke-width="5" stroke-linejoin="round" marker-start="url(#rorB)" marker-mid="url(#rorB)" marker-end="url(#rorB)"/>
<polyline points="1264.1,773.3 1271.2,773.3 1278.4,773.2 1285.6,773.2 1292.7,773.1 1299.9,773.1 1307,773 1314.2,772.9 1321.4,772.8 1328.5,772.7 1335.7,772.6 1342.9,772.5 1350,772.4 1357.2,772.3 1364.4,772.2 1371.5,772.1 1378.7,771.9 1385.8,771.8 1393,771.7 1400.2,771.6 1407.3,771.4 1414.5,771.3 1421.7,771.1 1428.8,770.9 1436,770.6 1443.1,770.4 1450.3,770.1 1457.5,769.9 1464.6,769.6 1471.8,769.3 1479,769 1486.1,768.7 1493.3,768.4 1500.4,768 1507.6,767.7 1514.8,767.4 1521.9,767.1 1529.1,766.7 1536.3,766.4 1543.4,766.1 1550.6,765.8 1557.8,765.5 1564.9,765.2 1572.1,764.9 1579.2,764.6 1586.4,764.2 1593.6,763.9 1600.7,763.6 1607.9,763.3 1615.1,762.9 1622.2,762.6 1629.4,762.3 1636.5,761.9 1643.7,761.5 1650.9,761.2 1658,760.8 1665.2,760.4 1672.4,760 1679.5,759.6 1686.7,759.2 1693.9,758.8 1701,758.3 1708.2,757.9 1715.3,757.4 1722.5,756.9 1729.7,756.4 1736.8,755.8 1744,755.3 1751.2,754.7 1758.3,754.2 1765.5,753.6 1772.6,753 1779.8,752.4 1787,751.8 1794.1,751.2 1801.3,750.6 1808.5,750 1815.6,749.4 1822.8,748.7 1829.9,748.1 1837.1,747.5 1844.3,746.8 1851.4,746.2 1858.6,745.5 1865.8,744.8 1872.9,744.1 1880.1,743.4 1887.3,742.6 1894.4,741.9 1901.6,741.1 1908.7,740.4 1915.9,739.6 1923.1,738.9 1930.2,738.1 1937.4,737.4 1944.6,736.6 1951.7,735.9 1958.9,735.2 1966,734.4 1973.2,733.7 1980.4,733.1 1987.5,732.4 1994.7,731.7 2001.9,731 2009,730.3 2016.2,729.7 2023.3,729 2030.5,728.3 2037.7,727.7 2044.8,727 2052,726.3 2059.2,725.7 2066.3,725 2073.5,724.4 2080.7,723.8 2087.8,723.2 2095,722.6 2102.1,722 2109.3,721.5 2116.5,720.9 2123.6,720.4 2130.8,719.9 2138,719.3 2145.1,718.8 2152.3,718.3 2159.4,717.8 2166.6,717.4 2173.8,716.9 2180.9,716.4 2188.1,715.9 2195.3,715.5 2202.4,715 2209.6,714.6 2216.7,714.2 2223.9,713.7 2231.1,713.3 2238.2,712.9 2245.4,712.5 2252.6,712.1 2259.7,711.8 2266.9,711.4" fill="none" stroke="#b5560f" stroke-width="9" stroke-linejoin="round" stroke-linecap="round" />
<polyline points="1693.9,753.9 1686.7,754.1 1679.5,754.1 1672.4,753.9 1665.2,753.5 1658,752.6 1650.9,751.2 1643.7,749.1 1636.5,746 1629.4,741.8 1622.2,736.2 1615.1,729 1607.9,719.9 1600.7,708.8 1593.6,695.6 1586.4,680.4 1579.2,663.4 1572.1,644.8 1564.9,625.3 1557.8,605.4 1550.6,586 1543.4,568 1536.3,552.3 1529.1,539.7 1521.9,531 1514.8,526.5 1507.6,526.7 1500.4,531.6 1493.3,540.8 1486.1,553.8 1479,570 1471.8,588.5 1464.6,608.4 1457.5,628.9 1450.3,649 1443.1,668.2 1436,685.9 1428.8,701.8 1421.7,715.6 1414.5,727.3 1407.3,737 1400.2,744.8 1393,750.9 1385.8,755.7 1378.7,759.3 1371.5,762 1364.4,763.9 1357.2,765.3 1350,766.3 1342.9,767 1335.7,767.5" fill="none" stroke="#b5560f" stroke-width="5" stroke-linejoin="round" marker-start="url(#rbrB)" marker-mid="url(#rbrB)" marker-end="url(#rbrB)"/>
<polyline points="2266.9,701.1 2259.7,701 2252.6,700.8 2245.4,700.6 2238.2,700.4 2231.1,700.1 2223.9,699.8 2216.7,699.4 2209.6,699 2202.4,698.5 2195.3,698 2188.1,697.5 2180.9,696.9 2173.8,696.2 2166.6,695.5 2159.4,694.8 2152.3,694 2145.1,693.1 2138,692.2 2130.8,691.3 2123.6,690.3 2116.5,689.3 2109.3,688.2 2102.1,687.2 2095,686.1 2087.8,685 2080.7,683.8 2073.5,682.7 2066.3,681.6 2059.2,680.5 2052,679.3 2044.8,678.2 2037.7,677.2 2030.5,676.1 2023.3,675.1 2016.2,674.1 2009,673.2 2001.9,672.3 1994.7,671.5 1987.5,670.8 1980.4,670.1 1973.2,669.5 1966,669 1958.9,668.7 1951.7,668.4 1944.6,668.3 1937.4,668.3 1930.2,668.4 1923.1,668.7 1915.9,669 1908.7,669.5 1901.6,670.2 1894.4,670.9 1887.3,671.8 1880.1,672.9 1872.9,674 1865.8,675.4 1858.6,676.8 1851.4,678.4 1844.3,680.1 1837.1,681.9 1829.9,683.8 1822.8,685.8 1815.6,688 1808.5,690.2 1801.3,692.4 1794.1,694.8 1787,697.2 1779.8,699.6 1772.6,702.1 1765.5,704.6 1758.3,707.1 1751.2,709.6 1744,712.1 1736.8,714.6 1729.7,717 1722.5,719.4 1715.3,721.8 1708.2,724.1 1701,726.3 1693.9,728.5 1686.7,730.5 1679.5,732.6 1672.4,734.5 1665.2,736.4 1658,738.2 1650.9,739.9 1643.7,741.5 1636.5,743.1 1629.4,744.6 1622.2,746 1615.1,747.3 1607.9,748.6 1600.7,749.7 1593.6,750.9 1586.4,751.9 1579.2,752.9 1572.1,753.9 1564.9,754.7 1557.8,755.6 1550.6,756.4 1543.4,757.1 1536.3,757.8 1529.1,758.5 1521.9,759.1 1514.8,759.8 1507.6,760.3 1500.4,760.9 1493.3,761.4 1486.1,761.9 1479,762.4 1471.8,762.8 1464.6,763.3 1457.5,763.7 1450.3,764 1443.1,764.4 1436,764.7 1428.8,765 1421.7,765.2 1414.5,765.5 1407.3,765.7 1400.2,765.8 1393,766 1385.8,766.2 1378.7,766.3 1371.5,766.5 1364.4,766.6 1357.2,766.7 1350,766.9 1342.9,767 1335.7,767.1 1328.5,767.2 1321.4,767.3 1314.2,767.4 1307,767.5 1299.9,767.6 1292.7,767.6 1285.6,767.7 1278.4,767.7 1271.2,767.8 1264.1,767.8" fill="none" stroke="#4a7c10" stroke-width="4" stroke-linejoin="round" marker-start="url(#rolv)" marker-mid="url(#rolv)" marker-end="url(#rolv)"/>
<polyline points="1264.1,769.3 1271.2,769.3 1278.4,769.2 1285.6,769.2 1292.7,769.1 1299.9,769.1 1307,769 1314.2,768.9 1321.4,768.8 1328.5,768.7 1335.7,768.6 1342.9,768.5 1350,768.4 1357.2,768.3 1364.4,768.2 1371.5,768.1 1378.7,767.9 1385.8,767.8 1393,767.7 1400.2,767.6 1407.3,767.4 1414.5,767.3 1421.7,767.1 1428.8,766.9 1436,766.6 1443.1,766.4 1450.3,766.1 1457.5,765.9 1464.6,765.6 1471.8,765.3 1479,765 1486.1,764.7 1493.3,764.4 1500.4,764 1507.6,763.7 1514.8,763.4 1521.9,763.1 1529.1,762.7 1536.3,762.4 1543.4,762.1 1550.6,761.8 1557.8,761.5 1564.9,761.2 1572.1,760.9 1579.2,760.6 1586.4,760.2 1593.6,759.9 1600.7,759.6 1607.9,759.3 1615.1,758.9 1622.2,758.6 1629.4,758.3 1636.5,757.9 1643.7,757.5 1650.9,757.2 1658,756.8 1665.2,756.4 1672.4,756 1679.5,755.6 1686.7,755.2 1693.9,754.8 1701,754.3 1708.2,753.9 1715.3,753.4 1722.5,752.9 1729.7,752.4 1736.8,751.8 1744,751.3 1751.2,750.7 1758.3,750.2 1765.5,749.6 1772.6,749 1779.8,748.4 1787,747.8 1794.1,747.2 1801.3,746.6 1808.5,746 1815.6,745.4 1822.8,744.7 1829.9,744.1 1837.1,743.5 1844.3,742.8 1851.4,742.2 1858.6,741.5 1865.8,740.8 1872.9,740.1 1880.1,739.4 1887.3,738.6 1894.4,737.9 1901.6,737.1 1908.7,736.4 1915.9,735.6 1923.1,734.9 1930.2,734.1 1937.4,733.4 1944.6,732.6 1951.7,731.9 1958.9,731.2 1966,730.4 1973.2,729.7 1980.4,729.1 1987.5,728.4 1994.7,727.7 2001.9,727 2009,726.3 2016.2,725.7 2023.3,725 2030.5,724.3 2037.7,723.7 2044.8,723 2052,722.3 2059.2,721.7 2066.3,721 2073.5,720.4 2080.7,719.8 2087.8,719.2 2095,718.6 2102.1,718 2109.3,717.5 2116.5,716.9 2123.6,716.4 2130.8,715.9 2138,715.3 2145.1,714.8 2152.3,714.3 2159.4,713.8 2166.6,713.4 2173.8,712.9 2180.9,712.4 2188.1,711.9 2195.3,711.5 2202.4,711 2209.6,710.6 2216.7,710.2 2223.9,709.7 2231.1,709.3 2238.2,708.9 2245.4,708.5 2252.6,708.1 2259.7,707.8 2266.9,707.4" fill="none" stroke="#8b068b" stroke-width="10" stroke-linejoin="round" stroke-linecap="round" />
<polyline points="1264.1,762.6 1271.2,762.3 1278.4,762.1 1285.6,761.8 1292.7,761.4 1299.9,761.1 1307,760.7 1314.2,760.2 1321.4,759.7 1328.5,759.1 1335.7,758.3 1342.9,757.4 1350,756.1 1357.2,754.6 1364.4,752.5 1371.5,749.8 1378.7,746.1 1385.8,741.4 1393,735.3 1400.2,727.5 1407.3,717.6 1414.5,705.4 1421.7,690.7 1428.8,673.2 1436,652.9 1443.1,629.8 1450.3,604.3 1457.5,576.7 1464.6,547.6 1471.8,517.7 1479,487.7 1486.1,458.5 1493.3,430.9 1500.4,405.5 1507.6,382.8 1514.8,363.2 1521.9,346.6 1529.1,332.9 1536.3,321.6 1543.4,312.3 1550.6,304.3 1557.8,296.9 1564.9,289.5 1572.1,281.6 1579.2,272.8 1586.4,263 1593.6,252.2 1600.7,240.5 1607.9,228.3 1615.1,216.2 1622.2,204.6 1629.4,194.3 1636.5,185.7 1643.7,179.3 1650.9,175.8 1658,175.3 1665.2,178.2 1672.4,184.5 1679.5,194.1 1686.7,206.9 1693.9,222.5 1701,240.5 1708.2,260.5 1715.3,282.2 1722.5,305 1729.7,328.6 1736.8,352.6 1744,376.7 1751.2,400.5 1758.3,423.7 1765.5,446.2 1772.6,467.8 1779.8,488.2 1787,507.3 1794.1,525.1 1801.3,541.5 1808.5,556.5 1815.6,570.1 1822.8,582.2 1829.9,593.1 1837.1,602.7 1844.3,611.1 1851.4,618.4 1858.6,624.7 1865.8,630.1 1872.9,634.7 1880.1,638.7 1887.3,642 1894.4,644.9 1901.6,647.3 1908.7,649.4 1915.9,651.2 1923.1,652.7 1930.2,654.1 1937.4,655.4 1944.6,656.6 1951.7,657.7 1958.9,658.8 1966,659.9 1973.2,661 1980.4,662.1 1987.5,663.2 1994.7,664.4 2001.9,665.6 2009,666.8 2016.2,668 2023.3,669.3 2030.5,670.6 2037.7,671.9 2044.8,673.2 2052,674.5 2059.2,675.8 2066.3,677.1 2073.5,678.4 2080.7,679.7 2087.8,681 2095,682.3 2102.1,683.5 2109.3,684.7 2116.5,685.9 2123.6,687 2130.8,688.2 2138,689.2 2145.1,690.2 2152.3,691.2 2159.4,692.1 2166.6,692.9 2173.8,693.7 2180.9,694.5 2188.1,695.1 2195.3,695.8 2202.4,696.4 2209.6,696.9 2216.7,697.4 2223.9,697.8 2231.1,698.2 2238.2,698.6 2245.4,698.9 2252.6,699.1 2259.7,699.4 2266.9,699.6" fill="none" stroke="#1170b8" stroke-width="4.6" stroke-linejoin="round" stroke-linecap="round" />
</g>
<line x1="1335.7" y1="792.6" x2="1335.7" y2="810.6" stroke="#000" stroke-width="6.4"/>
<line x1="1550.6" y1="792.6" x2="1550.6" y2="810.6" stroke="#000" stroke-width="6.4"/>
<line x1="1765.5" y1="792.6" x2="1765.5" y2="810.6" stroke="#000" stroke-width="6.4"/>
<line x1="1980.4" y1="792.6" x2="1980.4" y2="810.6" stroke="#000" stroke-width="6.4"/>
<line x1="2195.3" y1="792.6" x2="2195.3" y2="810.6" stroke="#000" stroke-width="6.4"/>
<line x1="1443.1" y1="792.6" x2="1443.1" y2="800.6" stroke="#000" stroke-width="6.4"/>
<line x1="1658" y1="792.6" x2="1658" y2="800.6" stroke="#000" stroke-width="6.4"/>
<line x1="1872.9" y1="792.6" x2="1872.9" y2="800.6" stroke="#000" stroke-width="6.4"/>
<line x1="2087.8" y1="792.6" x2="2087.8" y2="800.6" stroke="#000" stroke-width="6.4"/>
<text x="1335.7" y="866.5" font-size="55" fill="#000" text-anchor="middle" font-weight="bold" >528</text>
<text x="1550.6" y="866.5" font-size="55" fill="#000" text-anchor="middle" font-weight="bold" >531</text>
<text x="1765.5" y="866.5" font-size="55" fill="#000" text-anchor="middle" font-weight="bold" >534</text>
<text x="1980.4" y="866.5" font-size="55" fill="#000" text-anchor="middle" font-weight="bold" >537</text>
<text x="2195.3" y="866.5" font-size="55" fill="#000" text-anchor="middle" font-weight="bold" >540</text>
<text x="1765.6" y="935.8" font-size="59.2" fill="#000" text-anchor="middle" font-weight="bold" >Binding energy (eV)</text>
<text transform="translate(1226.8,384.3) rotate(-90)" font-size="59.5" text-anchor="middle">Intensity (a.u.)</text>
<text x="1297.2" y="109.5" font-size="76" fill="#000" text-anchor="start" font-weight="bold" >(b)</text>
<text x="2234.6" y="88.3" font-size="47" fill="#000" text-anchor="end" font-weight="bold" >O 1s</text>
<text x="1756.4" y="206.3" font-size="46" fill="#ff8a0a" text-anchor="start" font-weight="bold" >C<tspan font-weight="normal" dx="5">–</tspan><tspan dx="1.8">O</tspan><tspan font-weight="normal" dx="5">–</tspan><tspan dx="1.8">C</tspan></text>
<line x1="1815.7" y1="221.4" x2="1742.6" y2="323.4" stroke="#ff8a0a" stroke-width="4" stroke-linecap="round"/>
<polygon points="1728.6,342.9 1737,317 1750.5,326.6" fill="#ff8a0a"/>
<text x="1372" y="418.6" font-size="46" fill="#b5560f" text-anchor="start" font-weight="bold" >O<tspan font-weight="normal" dx="5">–</tspan><tspan dx="1.8">N</tspan></text>
<line x1="1434.3" y1="430" x2="1488.9" y2="506.2" stroke="#b5560f" stroke-width="4" stroke-linecap="round"/>
<polygon points="1502.9,525.7 1481,509.4 1494.5,499.8" fill="#b5560f"/>
<text x="1925" y="542.9" font-size="46" fill="#4a7c10" text-anchor="start" font-weight="bold" >H<tspan font-size="30" dy="12">2</tspan><tspan dy="-12">O</tspan></text>
<line x1="1952.6" y1="567" x2="1922.1" y2="638" stroke="#4a7c10" stroke-width="4" stroke-linecap="round"/>
<polygon points="1912.6,660 1915.3,632.9 1930.5,639.4" fill="#4a7c10"/>
</g>
<g id="panel-c">
<rect x="115.2" y="975.9" width="1005.3" height="766.6" fill="#fff" stroke="#000" stroke-width="6"/>
<clipPath id="clipC"><rect x="118.2" y="978.9" width="999.3" height="760.6"/></clipPath>
<g clip-path="url(#clipC)">
<polyline points="1120.5,1540.1 1114.2,1590.3 1107.9,1594.8 1101.6,1580.8 1095.3,1516 1089.1,1601.7 1082.8,1581.9 1076.5,1567.9 1070.2,1540 1063.9,1492.7 1057.7,1537 1051.4,1490.1 1045.1,1518.7 1038.8,1498.3 1032.5,1507 1026.2,1493.9 1020,1467.4 1013.7,1463.4 1007.4,1471.8 1001.1,1491.6 994.8,1450.8 988.5,1471.4 982.3,1399.6 976,1406.8 969.7,1435.6 963.4,1373.7 957.1,1383.8 950.8,1407.9 944.6,1377.2 938.3,1370.2 932,1351.7 925.7,1364 919.4,1370.1 913.1,1341.2 906.9,1331.7 900.6,1326.3 894.3,1289.7 888,1281.7 881.7,1281.8 875.4,1228.2 869.2,1227 862.9,1271.4 856.6,1193.6 850.3,1186.9 844,1186.9 837.7,1179.7 831.5,1130.9 825.2,1170 818.9,1175 812.6,1147.8 806.3,1126.9 800,1119.2 793.8,1176.9 787.5,1135.8 781.2,1173.6 774.9,1125.4 768.6,1162.2 762.3,1120.8 756.1,1183.3 749.8,1197.9 743.5,1181.4 737.2,1210.4 730.9,1233.5 724.7,1286.6 718.4,1345.2 712.1,1303.8 705.8,1308.2 699.5,1345 693.2,1366.7 687,1404.4 680.7,1419 674.4,1439.1 668.1,1477.7 661.8,1485.5 655.5,1454.9 649.3,1458 643,1478.2 636.7,1466.6 630.4,1509.5 624.1,1527.8 617.8,1525.4 611.6,1462.8 605.3,1507.6 599,1533.7 592.7,1523.2 586.4,1508.1 580.1,1553.6 573.9,1550.5 567.6,1513 561.3,1500.6 555,1546.7 548.7,1472.5 542.4,1494.3 536.2,1472.2 529.9,1466.8 523.6,1473.7 517.3,1486.4 511,1542 504.7,1493.2 498.5,1444.6 492.2,1486.8 485.9,1530 479.6,1496.8 473.3,1514.9 467,1465 460.8,1498.3 454.5,1506.3 448.2,1520.3 441.9,1520.2 435.6,1528.1 429.4,1577.9 423.1,1517 416.8,1543.4 410.5,1602.1 404.2,1557.1 397.9,1503.6 391.7,1511.8 385.4,1543.2 379.1,1584.6 372.8,1570.1 366.5,1603.4 360.2,1577.4 354,1639.6 347.7,1636.8 341.4,1570.3 335.1,1590.2 328.8,1557.5 322.5,1632.7 316.3,1578.6 310,1656.9 303.7,1612.4 297.4,1625.6 291.1,1669.4 284.8,1583.4 278.6,1638.1 272.3,1613.5 266,1654.9 259.7,1714.2 253.4,1652.1 247.1,1669.7 240.9,1712.8 234.6,1629.7 228.3,1680.7 222,1678.9 215.7,1692.6 209.4,1741.6 203.2,1674.9 196.9,1630.1 190.6,1662 184.3,1646.7 178,1652.6 171.7,1637.6 165.5,1638.8 159.2,1635.7 152.9,1663.1 146.6,1643.5 140.3,1673.3 134,1663.8 127.8,1632.9 121.5,1687.2 115.2,1664.6" fill="none" stroke="#c9c9c9" stroke-width="5.4" stroke-linejoin="round" marker-start="url(#sgreyS)" marker-mid="url(#sgreyS)" marker-end="url(#sgreyS)"/>
<polyline points="1120.5,1586.7 1107.9,1590.1 1095.3,1593.6 1082.8,1597.2 1070.2,1600.8 1057.7,1604.6 1045.1,1608.4 1032.5,1612.2 1020,1616.2 1007.4,1620.3 994.8,1624.3 982.3,1628.2 969.7,1631.7 957.1,1635.1 944.6,1638.2 932,1641 919.4,1643.5 906.9,1645.9 894.3,1647.9 881.7,1649.7 869.2,1651.3 856.6,1652.5 844,1653.3 831.5,1653.7 818.9,1653.8 806.3,1653.4 793.8,1652.5 781.2,1651 768.6,1648.8 756.1,1646 743.5,1642.4 730.9,1638 718.4,1632.8 705.8,1626.8 693.2,1620 680.7,1612.5 668.1,1604.3 655.5,1595.4 643,1586 630.4,1576.3 617.8,1566.4 605.3,1556.4 592.7,1546.6 580.1,1537.2 567.6,1528.4 555,1520.4 542.4,1513.6 529.9,1508.2 517.3,1504.5 504.7,1502.7 492.2,1502.8 479.6,1504.8 467,1508.8 454.5,1514.5 441.9,1521.7 429.4,1530.3 416.8,1539.9 404.2,1550.3 391.7,1561.2 379.1,1572.4 366.5,1583.6 354,1594.7 341.4,1605.4 328.8,1615.8 316.3,1625.6 303.7,1634.8 291.1,1643.3 278.6,1651.1 266,1658.1 253.4,1664.5 240.9,1670.1 228.3,1675 215.7,1679.3 203.2,1683.1 190.6,1686.2 178,1689 165.5,1691.2 152.9,1693.2 140.3,1694.8 127.8,1696.1 115.2,1697.2" fill="none" stroke="#b5560f" stroke-width="4" stroke-linejoin="round" marker-start="url(#rbrBs)" marker-mid="url(#rbrBs)" marker-end="url(#rbrBs)"/>
<polyline points="1120.5,1583.8 1114.2,1585.5 1107.9,1587.2 1101.6,1588.9 1095.3,1590.5 1089.1,1592.2 1082.8,1593.9 1076.5,1595.6 1070.2,1597.4 1063.9,1599.1 1057.7,1600.8 1051.4,1602.5 1045.1,1604.2 1038.8,1605.9 1032.5,1607.4 1026.2,1609 1020,1610.4 1013.7,1611.7 1007.4,1612.8 1001.1,1613.6 994.8,1614 988.5,1614 982.3,1613.5 976,1612.4 969.7,1610.7 963.4,1608.4 957.1,1605.3 950.8,1601.3 944.6,1596.5 938.3,1590.8 932,1584 925.7,1576.2 919.4,1567.3 913.1,1557.2 906.9,1546 900.6,1533.7 894.3,1520.2 888,1505.6 881.7,1490 875.4,1473.5 869.2,1456.2 862.9,1438.3 856.6,1419.9 850.3,1401.3 844,1382.6 837.7,1364.3 831.5,1346.4 825.2,1329.4 818.9,1313.6 812.6,1299.2 806.3,1286.6 800,1275.9 793.8,1267.6 787.5,1261.7 781.2,1258.5 774.9,1258.1 768.6,1260.5 762.3,1265.9 756.1,1274.2 749.8,1285.1 743.5,1298.4 737.2,1313.9 730.9,1331.1 724.7,1349.8 718.4,1369.6 712.1,1390.2 705.8,1411.3 699.5,1432.5 693.2,1453.7 687,1474.4 680.7,1494.5 674.4,1513.9 668.1,1532.3 661.8,1549.7 655.5,1565.9 649.3,1580.9 643,1594.7 636.7,1607.3 630.4,1618.7 624.1,1628.9 617.8,1638 611.6,1646.1 605.3,1653.2 599,1659.4 592.7,1664.8 586.4,1669.5 580.1,1673.5 573.9,1677 567.6,1680 561.3,1682.5 555,1684.7 548.7,1686.5 542.4,1688.1 536.2,1689.5 529.9,1690.6 523.6,1691.7 517.3,1692.6 511,1693.4 504.7,1694.2 498.5,1694.8 492.2,1695.4 485.9,1696 479.6,1696.6 473.3,1697.1 467,1697.5 460.8,1698 454.5,1698.4 448.2,1698.8 441.9,1699.2 435.6,1699.6 429.4,1699.9 423.1,1700.2 416.8,1700.5 410.5,1700.8 404.2,1701.1 397.9,1701.4 391.7,1701.6 385.4,1701.8 379.1,1702 372.8,1702.2 366.5,1702.4 360.2,1702.5 354,1702.6 347.7,1702.8 341.4,1702.9 335.1,1703 328.8,1703.1 322.5,1703.1 316.3,1703.2 310,1703.3 303.7,1703.4 297.4,1703.5 291.1,1703.6 284.8,1703.6 278.6,1703.7 272.3,1703.8 266,1703.9 259.7,1703.9 253.4,1704 247.1,1704.1 240.9,1704.1 234.6,1704.2 228.3,1704.2 222,1704.3 215.7,1704.3 209.4,1704.4 203.2,1704.4 196.9,1704.5 190.6,1704.5 184.3,1704.6 178,1704.6 171.7,1704.6 165.5,1704.7 159.2,1704.7 152.9,1704.7 146.6,1704.8 140.3,1704.8 134,1704.8 127.8,1704.9 121.5,1704.9 115.2,1704.9" fill="none" stroke="#ff8a0a" stroke-width="5" stroke-linejoin="round" marker-start="url(#rorB)" marker-mid="url(#rorB)" marker-end="url(#rorB)"/>
<polyline points="1120.5,1571.1 1114.2,1570 1107.9,1568.5 1101.6,1566.8 1095.3,1564.7 1089.1,1562.3 1082.8,1559.6 1076.5,1556.5 1070.2,1553.1 1063.9,1549.3 1057.7,1545.1 1051.4,1540.6 1045.1,1535.8 1038.8,1530.6 1032.5,1525.2 1026.2,1519.5 1020,1513.7 1013.7,1507.6 1007.4,1501.5 1001.1,1495.2 994.8,1488.9 988.5,1482.5 982.3,1476.2 976,1470.1 969.7,1464.1 963.4,1458.5 957.1,1453.2 950.8,1448.4 944.6,1444.1 938.3,1440.4 932,1437.3 925.7,1435 919.4,1433.4 913.1,1432.6 906.9,1432.7 900.6,1433.6 894.3,1435.5 888,1438.5 881.7,1442.5 875.4,1447.4 869.2,1453.2 862.9,1459.9 856.6,1467.3 850.3,1475.3 844,1484 837.7,1493.1 831.5,1502.5 825.2,1512.3 818.9,1522.2 812.6,1532.2 806.3,1542.3 800,1552.2 793.8,1562 787.5,1571.5 781.2,1580.8 774.9,1589.7 768.6,1598.3 762.3,1606.4 756.1,1614.1 749.8,1621.4 743.5,1628.2 737.2,1634.5 730.9,1640.3 724.7,1645.7 718.4,1650.6 712.1,1655.2 705.8,1659.3 699.5,1663 693.2,1666.4 687,1669.5 680.7,1672.3 674.4,1674.7 668.1,1677 661.8,1679 655.5,1680.8 649.3,1682.4 643,1683.9 636.7,1685.2 630.4,1686.4 624.1,1687.5 617.8,1688.6 611.6,1689.5 605.3,1690.4 599,1691.2 592.7,1691.9 586.4,1692.6 580.1,1693.2 573.9,1693.8 567.6,1694.4 561.3,1694.9 555,1695.3 548.7,1695.8 542.4,1696.2 536.2,1696.6 529.9,1697 523.6,1697.3 517.3,1697.7 511,1698.1 504.7,1698.4 498.5,1698.8 492.2,1699.1 485.9,1699.5 479.6,1699.8 473.3,1700.1 467,1700.5 460.8,1700.8 454.5,1701.1 448.2,1701.3 441.9,1701.6 435.6,1701.9 429.4,1702.2 423.1,1702.4 416.8,1702.6 410.5,1702.8 404.2,1703.1 397.9,1703.2 391.7,1703.4 385.4,1703.6 379.1,1703.7 372.8,1703.9 366.5,1704 360.2,1704.1 354,1704.1 347.7,1704.2 341.4,1704.2 335.1,1704.3 328.8,1704.4 322.5,1704.4 316.3,1704.5 310,1704.5 303.7,1704.6 297.4,1704.6 291.1,1704.7 284.8,1704.7 278.6,1704.8 272.3,1704.8 266,1704.9 259.7,1704.9 253.4,1704.9 247.1,1705 240.9,1705 234.6,1705 228.3,1705.1 222,1705.1 215.7,1705.1 209.4,1705.2 203.2,1705.2 196.9,1705.2 190.6,1705.3 184.3,1705.3 178,1705.3 171.7,1705.3 165.5,1705.4 159.2,1705.4 152.9,1705.4 146.6,1705.4 140.3,1705.4 134,1705.4 127.8,1705.4 121.5,1705.5 115.2,1705.5" fill="none" stroke="#4a7c10" stroke-width="6" stroke-linejoin="round" marker-start="url(#rolvC)" marker-mid="url(#rolvC)" marker-end="url(#rolvC)"/>
<polyline points="1120.5,1594.6 1114.2,1596.4 1107.9,1598.2 1101.6,1600 1095.3,1601.8 1089.1,1603.6 1082.8,1605.4 1076.5,1607.2 1070.2,1609.1 1063.9,1611 1057.7,1612.8 1051.4,1614.7 1045.1,1616.6 1038.8,1618.5 1032.5,1620.4 1026.2,1622.3 1020,1624.2 1013.7,1626.2 1007.4,1628.1 1001.1,1630 994.8,1631.9 988.5,1633.7 982.3,1635.4 976,1637.1 969.7,1638.8 963.4,1640.4 957.1,1641.9 950.8,1643.5 944.6,1645 938.3,1646.4 932,1647.8 925.7,1649.2 919.4,1650.6 913.1,1652 906.9,1653.3 900.6,1654.6 894.3,1655.9 888,1657.2 881.7,1658.5 875.4,1659.7 869.2,1660.9 862.9,1662.1 856.6,1663.3 850.3,1664.4 844,1665.5 837.7,1666.6 831.5,1667.7 825.2,1668.8 818.9,1669.8 812.6,1670.8 806.3,1671.8 800,1672.8 793.8,1673.8 787.5,1674.7 781.2,1675.7 774.9,1676.6 768.6,1677.5 762.3,1678.3 756.1,1679.2 749.8,1680 743.5,1680.7 737.2,1681.5 730.9,1682.2 724.7,1682.9 718.4,1683.6 712.1,1684.3 705.8,1685 699.5,1685.6 693.2,1686.3 687,1686.9 680.7,1687.5 674.4,1688.1 668.1,1688.7 661.8,1689.3 655.5,1689.8 649.3,1690.4 643,1690.9 636.7,1691.4 630.4,1692 624.1,1692.5 617.8,1693 611.6,1693.5 605.3,1694.1 599,1694.6 592.7,1695 586.4,1695.5 580.1,1696 573.9,1696.4 567.6,1696.8 561.3,1697.2 555,1697.6 548.7,1697.9 542.4,1698.2 536.2,1698.6 529.9,1698.9 523.6,1699.2 517.3,1699.5 511,1699.9 504.7,1700.2 498.5,1700.5 492.2,1700.8 485.9,1701.1 479.6,1701.4 473.3,1701.7 467,1702 460.8,1702.3 454.5,1702.5 448.2,1702.8 441.9,1703.1 435.6,1703.3 429.4,1703.5 423.1,1703.8 416.8,1704 410.5,1704.2 404.2,1704.3 397.9,1704.5 391.7,1704.7 385.4,1704.8 379.1,1704.9 372.8,1705.1 366.5,1705.2 360.2,1705.2 354,1705.3 347.7,1705.3 341.4,1705.4 335.1,1705.4 328.8,1705.5 322.5,1705.5 316.3,1705.6 310,1705.6 303.7,1705.6 297.4,1705.7 291.1,1705.7 284.8,1705.7 278.6,1705.8 272.3,1705.8 266,1705.9 259.7,1705.9 253.4,1705.9 247.1,1705.9 240.9,1706 234.6,1706 228.3,1706 222,1706.1 215.7,1706.1 209.4,1706.1 203.2,1706.1 196.9,1706.1 190.6,1706.2 184.3,1706.2 178,1706.2 171.7,1706.2 165.5,1706.2 159.2,1706.2 152.9,1706.3 146.6,1706.3 140.3,1706.3 134,1706.3 127.8,1706.3 121.5,1706.3 115.2,1706.3" fill="none" stroke="#8b068b" stroke-width="3" stroke-linejoin="round" marker-start="url(#rpurS)" marker-mid="url(#rpurS)" marker-end="url(#rpurS)"/>
<polyline points="115.2,1696 121.5,1695.4 127.8,1694.8 134,1694.2 140.3,1693.5 146.6,1692.7 152.9,1691.8 159.2,1690.9 165.5,1689.8 171.7,1688.7 178,1687.5 184.3,1686.2 190.6,1684.7 196.9,1683.1 203.2,1681.5 209.4,1679.6 215.7,1677.7 222,1675.6 228.3,1673.3 234.6,1670.9 240.9,1668.3 247.1,1665.5 253.4,1662.6 259.7,1659.5 266,1656.2 272.3,1652.7 278.6,1649 284.8,1645.1 291.1,1641.1 297.4,1636.9 303.7,1632.5 310,1627.9 316.3,1623.2 322.5,1618.3 328.8,1613.2 335.1,1608.1 341.4,1602.8 347.7,1597.4 354,1591.9 360.2,1586.3 366.5,1580.7 372.8,1575 379.1,1569.3 385.4,1563.6 391.7,1557.9 397.9,1552.3 404.2,1546.8 410.5,1541.4 416.8,1536.2 423.1,1531.1 429.4,1526.3 435.6,1521.7 441.9,1517.4 448.2,1513.5 454.5,1509.9 460.8,1506.6 467,1503.8 473.3,1501.3 479.6,1499.4 485.9,1497.8 492.2,1496.7 498.5,1496.1 504.7,1495.9 511,1496.1 517.3,1496.7 523.6,1497.7 529.9,1499 536.2,1500.6 542.4,1502.4 548.7,1504.3 555,1506.3 561.3,1508.3 567.6,1510.1 573.9,1511.7 580.1,1513 586.4,1513.9 592.7,1514.2 599,1513.9 605.3,1512.8 611.6,1510.8 617.8,1507.7 624.1,1503.6 630.4,1498.3 636.7,1491.6 643,1483.5 649.3,1474 655.5,1463 661.8,1450.4 668.1,1436.4 674.4,1421 680.7,1404.2 687,1386.1 693.2,1367 699.5,1347 705.8,1326.4 712.1,1305.3 718.4,1284.2 724.7,1263.2 730.9,1242.7 737.2,1223.1 743.5,1204.7 749.8,1187.8 756.1,1172.7 762.3,1159.7 768.6,1149 774.9,1140.8 781.2,1135 787.5,1131.6 793.8,1130.5 800,1131.5 806.3,1134.7 812.6,1139.7 818.9,1146.5 825.2,1154.7 831.5,1164.2 837.7,1174.8 844,1186.3 850.3,1198.5 856.6,1211.1 862.9,1224.2 869.2,1237.6 875.4,1251.1 881.7,1264.6 888,1278.2 894.3,1291.8 900.6,1305.2 906.9,1318.5 913.1,1331.4 919.4,1344.1 925.7,1356.4 932,1368.3 938.3,1380 944.6,1391.3 950.8,1402.2 957.1,1412.9 963.4,1423.2 969.7,1433.2 976,1442.9 982.3,1452.3 988.5,1461.3 994.8,1469.9 1001.1,1478.2 1007.4,1486.2 1013.7,1493.7 1020,1501 1026.2,1507.8 1032.5,1514.3 1038.8,1520.5 1045.1,1526.3 1051.4,1531.6 1057.7,1536.6 1063.9,1541.1 1070.2,1545.3 1076.5,1549 1082.8,1552.4 1089.1,1555.4 1095.3,1558 1101.6,1560.3 1107.9,1562.3 1114.2,1563.9 1120.5,1565.2" fill="none" stroke="#1170b8" stroke-width="4.4" stroke-linejoin="round" stroke-linecap="round" />
</g>
<line x1="115.2" y1="1745.5" x2="115.2" y2="1762.5" stroke="#000" stroke-width="6.2"/>
<line x1="366.5" y1="1745.5" x2="366.5" y2="1762.5" stroke="#000" stroke-width="6.2"/>
<line x1="617.8" y1="1745.5" x2="617.8" y2="1762.5" stroke="#000" stroke-width="6.2"/>
<line x1="869.2" y1="1745.5" x2="869.2" y2="1762.5" stroke="#000" stroke-width="6.2"/>
<line x1="1120.5" y1="1745.5" x2="1120.5" y2="1762.5" stroke="#000" stroke-width="6.2"/>
<line x1="240.9" y1="1745.5" x2="240.9" y2="1753" stroke="#000" stroke-width="6.2"/>
<line x1="492.2" y1="1745.5" x2="492.2" y2="1753" stroke="#000" stroke-width="6.2"/>
<line x1="743.5" y1="1745.5" x2="743.5" y2="1753" stroke="#000" stroke-width="6.2"/>
<line x1="994.8" y1="1745.5" x2="994.8" y2="1753" stroke="#000" stroke-width="6.2"/>
<text x="115.2" y="1816.6" font-size="55" fill="#000" text-anchor="middle" font-weight="bold" >396</text>
<text x="366.5" y="1816.6" font-size="55" fill="#000" text-anchor="middle" font-weight="bold" >398</text>
<text x="617.8" y="1816.6" font-size="55" fill="#000" text-anchor="middle" font-weight="bold" >400</text>
<text x="869.2" y="1816.6" font-size="55" fill="#000" text-anchor="middle" font-weight="bold" >402</text>
<text x="1120.5" y="1816.6" font-size="55" fill="#000" text-anchor="middle" font-weight="bold" >404</text>
<text x="619" y="1884.3" font-size="59.5" fill="#000" text-anchor="middle" font-weight="bold" >Binding energy (eV)</text>
<text transform="translate(78.9,1357.5) rotate(-90)" font-size="59.5" text-anchor="middle">Intensity (a.u.)</text>
<text x="144.4" y="1069.7" font-size="76" fill="#000" text-anchor="start" font-weight="bold" >(c)</text>
<text x="1082.3" y="1052.5" font-size="46.5" fill="#000" text-anchor="end" font-weight="bold" >N 1s</text>
<text x="502.5" y="1145.1" font-size="46" fill="#ff8a0a" text-anchor="start" font-weight="bold" >Pyrroic N</text>
<line x1="627" y1="1157" x2="726.8" y2="1267.9" stroke="#ff8a0a" stroke-width="4" stroke-linecap="round"/>
<polygon points="742.9,1285.7 719.4,1271.9 731.6,1260.9" fill="#ff8a0a"/>
<text x="312.5" y="1319.4" font-size="46" fill="#b5560f" text-anchor="start" font-weight="bold" >Pyridinic N</text>
<line x1="432.9" y1="1338.6" x2="467.1" y2="1476.7" stroke="#b5560f" stroke-width="4" stroke-linecap="round"/>
<polygon points="472.9,1500 458.6,1476.7 474.7,1472.8" fill="#b5560f"/>
<text x="868" y="1167.1" font-size="46" fill="#4a7c10" text-anchor="start" font-weight="bold" >Graphitic N</text>
<line x1="1001.4" y1="1184.3" x2="985.8" y2="1433" stroke="#4a7c10" stroke-width="4" stroke-linecap="round"/>
<polygon points="984.3,1457 977.7,1430.5 994.2,1431.6" fill="#4a7c10"/>
</g>
<g id="panel-d">
<rect x="1269.2" y="978" width="1005.1" height="768.6" fill="#fff" stroke="#000" stroke-width="6.4"/>
<clipPath id="clipD"><rect x="1272.2" y="981" width="999.1" height="762.6"/></clipPath>
<g clip-path="url(#clipD)">
<polyline points="2273.7,1688.4 2270.4,1694.4 2267,1697.8 2263.7,1694.4 2260.3,1700.6 2257,1693 2253.6,1699 2250.3,1688.1 2246.9,1699.9 2243.6,1698.9 2240.2,1690.6 2236.9,1686.3 2233.5,1682.4 2230.2,1704.7 2226.8,1694.4 2223.5,1686.7 2220.1,1689.3 2216.8,1673.6 2213.4,1699.1 2210.1,1691.3 2206.7,1692.9 2203.4,1690.6 2200,1682.9 2196.7,1690 2193.3,1691.7 2190,1684.6 2186.6,1684.8 2183.3,1686 2179.9,1700.3 2176.6,1681 2173.2,1696 2169.9,1679.6 2166.5,1689.6 2163.2,1681.8 2159.8,1680.2 2156.5,1680.8 2153.1,1684.9 2149.8,1684.6 2146.4,1681.8 2143.1,1683.6 2139.7,1677.9 2136.4,1682 2133,1684 2129.7,1677.6 2126.3,1686.5 2123,1679.2 2119.6,1669 2116.3,1691.5 2112.9,1686.9 2109.6,1671.5 2106.2,1689 2102.9,1691.9 2099.5,1681.4 2096.2,1690.5 2092.8,1684.4 2089.5,1675.5 2086.1,1678.4 2082.8,1680.3 2079.4,1678.3 2076.1,1679.9 2072.7,1688.9 2069.4,1673.3 2066,1668.9 2062.7,1677.2 2059.3,1686.3 2056,1668 2052.6,1683.1 2049.3,1662.3 2045.9,1671.7 2042.6,1683.1 2039.2,1671.3 2035.9,1659 2032.5,1675.9 2029.2,1672.2 2025.8,1679.1 2022.5,1679.2 2019.1,1671 2015.8,1682.6 2012.4,1671.3 2009.1,1671.3 2005.7,1672.4 2002.4,1673.5 1999,1671.3 1995.7,1661.9 1992.3,1679.6 1989,1676.2 1985.6,1683.8 1982.3,1675.3 1978.9,1674 1975.6,1662.5 1972.2,1677.1 1968.9,1674.3 1965.5,1684.7 1962.2,1663.5 1958.8,1670.1 1955.5,1672.8 1952.1,1675.1 1948.8,1661.2 1945.4,1668.6 1942.1,1666.4 1938.7,1688.4 1935.4,1674.1 1932,1677 1928.7,1673.8 1925.3,1672.7 1922,1674 1918.6,1673 1915.3,1665.3 1911.9,1660.4 1908.6,1678.3 1905.2,1674.2 1901.9,1671.8 1898.5,1667.6 1895.2,1673.6 1891.8,1678.4 1888.5,1670.3 1885.1,1660.6 1881.8,1682.3 1878.4,1672.7 1875.1,1666.4 1871.7,1667.3 1868.4,1670.5 1865,1674.5 1861.7,1667.8 1858.3,1663.9 1855,1675.9 1851.6,1661.1 1848.3,1663.1 1844.9,1674.1 1841.6,1676.4 1838.2,1676.1 1834.9,1680.2 1831.5,1678 1828.2,1674.9 1824.8,1671.2 1821.5,1672.5 1818.1,1665.8 1814.8,1679.3 1811.4,1669.6 1808.1,1670.1 1804.7,1663 1801.4,1658.6 1798,1683.1 1794.7,1664.3 1791.3,1681.5 1788,1671.3 1784.6,1666.5 1781.3,1684.5 1777.9,1667.4 1774.6,1660.1 1771.2,1649 1767.9,1648.9 1764.5,1646.9 1761.2,1636.6 1757.8,1637.8 1754.5,1626.5 1751.1,1622.2 1747.8,1613.9 1744.4,1598.3 1741.1,1593.7 1737.7,1578.4 1734.4,1573.7 1731,1558.3 1727.7,1547.6 1724.3,1539.4 1721,1516.8 1717.6,1505 1714.3,1490.4 1710.9,1464.9 1707.6,1447.9 1704.2,1432 1700.9,1420 1697.5,1394.7 1694.2,1377.7 1690.8,1351.4 1687.5,1336.5 1684.1,1317.1 1680.8,1302.7 1677.4,1275 1674.1,1269.9 1670.7,1243.6 1667.4,1228.5 1664,1215.2 1660.7,1202.4 1657.3,1189.1 1654,1175.9 1650.6,1170.5 1647.3,1158.4 1643.9,1154 1640.6,1151.2 1637.2,1141.8 1633.9,1139.4 1630.5,1137 1627.2,1145.1 1623.8,1140.4 1620.5,1149.7 1617.1,1154.5 1613.8,1159.5 1610.4,1161.6 1607.1,1170.4 1603.7,1187 1600.4,1190.4 1597,1198.2 1593.7,1229.5 1590.3,1230.2 1587,1249.1 1583.6,1263.8 1580.3,1286.5 1576.9,1293.8 1573.6,1307.4 1570.2,1328.6 1566.9,1342.2 1563.5,1365.1 1560.2,1384.1 1556.8,1404.5 1553.5,1418.3 1550.1,1436.4 1546.8,1450.5 1543.4,1453.6 1540.1,1476 1536.7,1500.3 1533.4,1508.7 1530,1527.3 1526.7,1548.7 1523.3,1559.7 1520,1575.1 1516.6,1577.6 1513.3,1581 1509.9,1591.9 1506.6,1608.5 1503.2,1615.6 1499.9,1627.4 1496.5,1638 1493.2,1640.4 1489.8,1645.9 1486.5,1658.1 1483.1,1658.5 1479.8,1663.8 1476.4,1668.8 1473.1,1677.8 1469.7,1680.6 1466.4,1689.4 1463,1684.9 1459.7,1694.4 1456.3,1691.3 1453,1697.3 1449.6,1691.8 1446.3,1700.8 1442.9,1702.5 1439.6,1704.8 1436.2,1701.9 1432.9,1698.8 1429.5,1707.5 1426.2,1702.4 1422.8,1706.3 1419.5,1706 1416.1,1712.6 1412.8,1716.9 1409.4,1708.3 1406.1,1711.4 1402.7,1712.1 1399.4,1712.2 1396,1712.6 1392.7,1715.7 1389.3,1712.1 1386,1717.4 1382.6,1714.2 1379.3,1705.8 1375.9,1707.4 1372.6,1717.8 1369.2,1719.5 1365.9,1716.2 1362.5,1711.7 1359.2,1717 1355.8,1716.3 1352.5,1714.8 1349.1,1708 1345.8,1706.1 1342.4,1712.2 1339.1,1710.2 1335.7,1710 1332.4,1714.5 1329,1709.2 1325.7,1715.4 1322.3,1715.1 1319,1712.7 1315.6,1717.3 1312.3,1711.9 1308.9,1721.1 1305.6,1720.2 1302.2,1712.3 1298.9,1714.8 1295.5,1719.4 1292.2,1714 1288.8,1714.1 1285.5,1708.1 1282.1,1718 1278.8,1710 1275.4,1719.3 1272.1,1714.7 1268.7,1714.9" fill="none" stroke="#c6c6c6" stroke-width="3" stroke-linejoin="round" marker-start="url(#sgrey)" marker-mid="url(#sgrey)" marker-end="url(#sgrey)"/>
<polyline points="1268.7,1726.5 1275.4,1726.5 1282.1,1726.5 1288.8,1726.5 1295.5,1726.4 1302.2,1726.4 1308.9,1726.4 1315.6,1726.4 1322.3,1726.4 1329,1726.3 1335.7,1726.3 1342.4,1726.3 1349.1,1726.2 1355.8,1726.2 1362.5,1726.2 1369.2,1726.2 1375.9,1726.1 1382.6,1726.1 1389.3,1726.1 1396,1726 1402.7,1726 1409.4,1725.9 1416.1,1725.9 1422.8,1725.9 1429.5,1725.8 1436.2,1725.8 1442.9,1725.7 1449.6,1725.7 1456.3,1725.6 1463,1725.6 1469.7,1725.5 1476.4,1725.4 1483.1,1725.4 1489.8,1725.3 1496.5,1725.2 1503.2,1725.2 1509.9,1725.1 1516.6,1725 1523.3,1725 1530,1724.9 1536.7,1724.8 1543.4,1724.7 1550.1,1724.6 1556.8,1724.6 1563.5,1724.5 1570.2,1724.4 1576.9,1724.3 1583.6,1724.2 1590.3,1724.1 1597,1724 1603.7,1723.9 1610.4,1723.9 1617.1,1723.8 1623.8,1723.6 1630.5,1723.5 1637.2,1723.4 1643.9,1723.3 1650.6,1723.2 1657.3,1723 1664,1722.9 1670.7,1722.8 1677.4,1722.6 1684.1,1722.5 1690.8,1722.3 1697.5,1722.2 1704.2,1722 1710.9,1721.9 1717.6,1721.7 1724.3,1721.6 1731,1721.4 1737.7,1721.3 1744.4,1721.1 1751.1,1721 1757.8,1720.9 1764.5,1720.7 1771.2,1720.6 1777.9,1720.4 1784.6,1720.3 1791.3,1720.2 1798,1720 1804.7,1719.9 1811.4,1719.8 1818.1,1719.7 1824.8,1719.5 1831.5,1719.4 1838.2,1719.3 1844.9,1719.2 1851.6,1719 1858.3,1718.9 1865,1718.8 1871.7,1718.6 1878.4,1718.5 1885.1,1718.4 1891.8,1718.3 1898.5,1718.1 1905.2,1718 1911.9,1717.9 1918.6,1717.8 1925.3,1717.7 1932,1717.5 1938.7,1717.4 1945.4,1717.3 1952.1,1717.2 1958.8,1717.1 1965.5,1717 1972.2,1716.9 1978.9,1716.8 1985.6,1716.7 1992.3,1716.6 1999,1716.5 2005.7,1716.4 2012.4,1716.3 2019.1,1716.2 2025.8,1716.2 2032.5,1716.1 2039.2,1716 2045.9,1715.9 2052.6,1715.8 2059.3,1715.7 2066,1715.6 2072.7,1715.6 2079.4,1715.5 2086.1,1715.4 2092.8,1715.3 2099.5,1715.2 2106.2,1715.2 2112.9,1715.1 2119.6,1715 2126.3,1714.9 2133,1714.9 2139.7,1714.8 2146.4,1714.7 2153.1,1714.6 2159.8,1714.6 2166.5,1714.5 2173.2,1714.4 2179.9,1714.4 2186.6,1714.3 2193.3,1714.2 2200,1714.2 2206.7,1714.1 2213.4,1714.1 2220.1,1714 2226.8,1713.9 2233.5,1713.9 2240.2,1713.8 2246.9,1713.8 2253.6,1713.7 2260.3,1713.7 2267,1713.6 2273.7,1713.6" fill="none" stroke="#0a8a0a" stroke-width="3" stroke-linejoin="round" stroke-linecap="round" stroke-dasharray="3 6"/>
<polyline points="1824.8,1712 1818.1,1711.8 1811.4,1711.6 1804.7,1711.1 1798,1710.4 1791.3,1709.4 1784.6,1708 1777.9,1706 1771.2,1703.3 1764.5,1699.7 1757.8,1695 1751.1,1689.1 1744.4,1681.7 1737.7,1672.7 1731,1662.1 1724.3,1649.8 1717.6,1636 1710.9,1620.8 1704.2,1604.7 1697.5,1588 1690.8,1571.3 1684.1,1555.5 1677.4,1541 1670.7,1528.8 1664,1519.4 1657.3,1513.4 1650.6,1511.2 1643.9,1512.3 1637.2,1516 1630.5,1522 1623.8,1530.1 1617.1,1540 1610.4,1551.4 1603.7,1563.8 1597,1577 1590.3,1590.6 1583.6,1604.1 1576.9,1617.4 1570.2,1630.2 1563.5,1642.2 1556.8,1653.3 1550.1,1663.4 1543.4,1672.5 1536.7,1680.4 1530,1687.4 1523.3,1693.3 1516.6,1698.3 1509.9,1702.5 1503.2,1705.9 1496.5,1708.7 1489.8,1711 1483.1,1712.8 1476.4,1714.2 1469.7,1715.3 1463,1716.2 1456.3,1716.8 1449.6,1717.4 1442.9,1717.8" fill="none" stroke="#0a8a0a" stroke-width="4" stroke-linejoin="round" marker-start="url(#rgrD)" marker-mid="url(#rgrD)" marker-end="url(#rgrD)"/>
<polyline points="2273.7,1708.8 2270.4,1708.8 2267,1708.8 2263.7,1708.8 2260.3,1708.8 2257,1708.8 2253.6,1708.8 2250.3,1708.8 2246.9,1708.8 2243.6,1708.8 2240.2,1708.8 2236.9,1708.8 2233.5,1708.8 2230.2,1708.8 2226.8,1708.8 2223.5,1708.8 2220.1,1708.8 2216.8,1708.8 2213.4,1708.8 2210.1,1708.8 2206.7,1708.9 2203.4,1708.9 2200,1708.9 2196.7,1708.9 2193.3,1708.9 2190,1708.9 2186.6,1708.9 2183.3,1708.9 2179.9,1708.9 2176.6,1708.9 2173.2,1708.9 2169.9,1708.9 2166.5,1708.9 2163.2,1708.9 2159.8,1709 2156.5,1709 2153.1,1709 2149.8,1709 2146.4,1709 2143.1,1709 2139.7,1709 2136.4,1709 2133,1709 2129.7,1709 2126.3,1709.1 2123,1709.1 2119.6,1709.1 2116.3,1709.1 2112.9,1709.1 2109.6,1709.1 2106.2,1709.1 2102.9,1709.1 2099.5,1709.1 2096.2,1709.2 2092.8,1709.2 2089.5,1709.2 2086.1,1709.2 2082.8,1709.2 2079.4,1709.2 2076.1,1709.2 2072.7,1709.2 2069.4,1709.2 2066,1709.3 2062.7,1709.3 2059.3,1709.3 2056,1709.3 2052.6,1709.3 2049.3,1709.3 2045.9,1709.3 2042.6,1709.3 2039.2,1709.4 2035.9,1709.4 2032.5,1709.4 2029.2,1709.4 2025.8,1709.4 2022.5,1709.4 2019.1,1709.4 2015.8,1709.4 2012.4,1709.4 2009.1,1709.5 2005.7,1709.5 2002.4,1709.5 1999,1709.5 1995.7,1709.5 1992.3,1709.5 1989,1709.5 1985.6,1709.5 1982.3,1709.6 1978.9,1709.6 1975.6,1709.6 1972.2,1709.6 1968.9,1709.6 1965.5,1709.6 1962.2,1709.6 1958.8,1709.7 1955.5,1709.7 1952.1,1709.7 1948.8,1709.7 1945.4,1709.7 1942.1,1709.7 1938.7,1709.7 1935.4,1709.8 1932,1709.8 1928.7,1709.8 1925.3,1709.8 1922,1709.8 1918.6,1709.8 1915.3,1709.8 1911.9,1709.8 1908.6,1709.8 1905.2,1709.9 1901.9,1709.9 1898.5,1709.9 1895.2,1709.9 1891.8,1709.9 1888.5,1709.9 1885.1,1709.9 1881.8,1709.9 1878.4,1709.8 1875.1,1709.8 1871.7,1709.8 1868.4,1709.8 1865,1709.7 1861.7,1709.7 1858.3,1709.6 1855,1709.5 1851.6,1709.5 1848.3,1709.3 1844.9,1709.2 1841.6,1709.1 1838.2,1708.9 1834.9,1708.7 1831.5,1708.4 1828.2,1708.1 1824.8,1707.8 1821.5,1707.4 1818.1,1706.9 1814.8,1706.4 1811.4,1705.8 1808.1,1705.1 1804.7,1704.3 1801.4,1703.4 1798,1702.3 1794.7,1701.2 1791.3,1699.9 1788,1698.4 1784.6,1696.7 1781.3,1694.8 1777.9,1692.7 1774.6,1690.4 1771.2,1687.8 1767.9,1685 1764.5,1681.8 1761.2,1678.4 1757.8,1674.6 1754.5,1670.4 1751.1,1665.9 1747.8,1661 1744.4,1655.7 1741.1,1650 1737.7,1643.8 1734.4,1637.2 1731,1630.2 1727.7,1622.7 1724.3,1614.7 1721,1606.3 1717.6,1597.5 1714.3,1588.2 1710.9,1578.5 1707.6,1568.4 1704.2,1557.9 1700.9,1547.1 1697.5,1535.9 1694.2,1524.5 1690.8,1512.9 1687.5,1501 1684.1,1489.1 1680.8,1477.1 1677.4,1465.1 1674.1,1453.2 1670.7,1441.3 1667.4,1429.7 1664,1418.4 1660.7,1407.4 1657.3,1396.9 1654,1386.8 1650.6,1377.4 1647.3,1368.6 1643.9,1360.4 1640.6,1353.1 1637.2,1346.6 1633.9,1341.1 1630.5,1336.4 1627.2,1332.8 1623.8,1330.1 1620.5,1328.5 1617.1,1328 1613.8,1328.5 1610.4,1330.1 1607.1,1332.8 1603.7,1336.4 1600.4,1341.1 1597,1346.6 1593.7,1353.1 1590.3,1360.5 1587,1368.6 1583.6,1377.4 1580.3,1386.9 1576.9,1397 1573.6,1407.6 1570.2,1418.6 1566.9,1430 1563.5,1441.7 1560.2,1453.5 1556.8,1465.5 1553.5,1477.6 1550.1,1489.7 1546.8,1501.7 1543.4,1513.6 1540.1,1525.3 1536.7,1536.8 1533.4,1548 1530,1559 1526.7,1569.5 1523.3,1579.7 1520,1589.5 1516.6,1598.9 1513.3,1607.9 1509.9,1616.4 1506.6,1624.4 1503.2,1632 1499.9,1639.1 1496.5,1645.8 1493.2,1652.1 1489.8,1657.9 1486.5,1663.3 1483.1,1668.3 1479.8,1672.9 1476.4,1677.1 1473.1,1681 1469.7,1684.5 1466.4,1687.7 1463,1690.7 1459.7,1693.3 1456.3,1695.7 1453,1697.9 1449.6,1699.8 1446.3,1701.5 1442.9,1703.1 1439.6,1704.5 1436.2,1705.7 1432.9,1706.8 1429.5,1707.7 1426.2,1708.6 1422.8,1709.3 1419.5,1710 1416.1,1710.5 1412.8,1711 1409.4,1711.5 1406.1,1711.9 1402.7,1712.2 1399.4,1712.5 1396,1712.7 1392.7,1713 1389.3,1713.2 1386,1713.3 1382.6,1713.5 1379.3,1713.6 1375.9,1713.7 1372.6,1713.8 1369.2,1713.9 1365.9,1714 1362.5,1714 1359.2,1714.1 1355.8,1714.2 1352.5,1714.2 1349.1,1714.3 1345.8,1714.3 1342.4,1714.3 1339.1,1714.4 1335.7,1714.4 1332.4,1714.4 1329,1714.4 1325.7,1714.5 1322.3,1714.5 1319,1714.5 1315.6,1714.5 1312.3,1714.5 1308.9,1714.5 1305.6,1714.6 1302.2,1714.6 1298.9,1714.6 1295.5,1714.6 1292.2,1714.6 1288.8,1714.6 1285.5,1714.6 1282.1,1714.6 1278.8,1714.6 1275.4,1714.6 1272.1,1714.6 1268.7,1714.6" fill="none" stroke="#f28b30" stroke-width="8" stroke-linejoin="round" marker-start="url(#rorA)" marker-mid="url(#rorA)" marker-end="url(#rorA)"/>
<polyline points="2273.7,1692.8 2267,1692.7 2260.3,1692.6 2253.6,1692.5 2246.9,1692.4 2240.2,1692.3 2233.5,1692.2 2226.8,1692.1 2220.1,1692 2213.4,1692 2206.7,1691.9 2200,1691.8 2193.3,1691.7 2186.6,1691.6 2179.9,1691.5 2173.2,1691.4 2166.5,1691.3 2159.8,1691.2 2153.1,1691.2 2146.4,1691.1 2139.7,1691 2133,1690.9 2126.3,1690.8 2119.6,1690.8 2112.9,1690.7 2106.2,1690.6 2099.5,1690.5 2092.8,1690.4 2086.1,1690.3 2079.4,1690.3 2072.7,1690.2 2066,1690.1 2059.3,1690 2052.6,1690 2045.9,1689.9 2039.2,1689.8 2032.5,1689.8 2025.8,1689.7 2019.1,1689.6 2012.4,1689.6 2005.7,1689.5 1999,1689.5 1992.3,1689.4 1985.6,1689.4 1978.9,1689.4 1972.2,1689.3 1965.5,1689.3 1958.8,1689.2 1952.1,1689.2 1945.4,1689.1 1938.7,1689.1 1932,1689.1 1925.3,1689 1918.6,1689 1911.9,1689 1905.2,1689 1898.5,1689 1891.8,1689 1885.1,1689 1878.4,1689.1 1871.7,1689.1 1865,1689.1 1858.3,1689.2 1851.6,1689.3 1844.9,1689.3 1838.2,1689.4 1831.5,1689.5 1824.8,1689.6 1818.1,1689.7 1811.4,1689.8 1804.7,1689.9 1798,1690 1791.3,1690.3 1784.6,1690.7 1777.9,1691.1 1771.2,1691.7 1764.5,1692.4 1757.8,1693.1 1751.1,1693.9 1744.4,1694.8 1737.7,1695.6 1731,1696.5 1724.3,1697.3 1717.6,1698.1 1710.9,1698.9 1704.2,1699.6 1697.5,1700.2 1690.8,1700.9 1684.1,1701.5 1677.4,1702.1 1670.7,1702.8 1664,1703.4 1657.3,1704.1 1650.6,1704.7 1643.9,1705.3 1637.2,1705.9 1630.5,1706.4 1623.8,1707 1617.1,1707.5 1610.4,1707.9 1603.7,1708.4 1597,1708.8 1590.3,1709.1 1583.6,1709.5 1576.9,1709.7 1570.2,1710 1563.5,1710.3 1556.8,1710.5 1550.1,1710.8 1543.4,1711 1536.7,1711.3 1530,1711.5 1523.3,1711.8 1516.6,1712.1 1509.9,1712.5 1503.2,1712.8 1496.5,1713.2 1489.8,1713.7 1483.1,1714.2 1476.4,1714.8 1469.7,1715.5 1463,1716.1 1456.3,1716.8 1449.6,1717.5 1442.9,1718.2 1436.2,1718.9 1429.5,1719.6 1422.8,1720.2 1416.1,1720.8 1409.4,1721.4 1402.7,1721.8 1396,1722.2 1389.3,1722.6 1382.6,1723 1375.9,1723.4 1369.2,1723.8 1362.5,1724.1 1355.8,1724.5 1349.1,1724.8 1342.4,1725.2 1335.7,1725.5 1329,1725.8 1322.3,1726.1 1315.6,1726.4 1308.9,1726.7 1302.2,1726.9 1295.5,1727.1 1288.8,1727.3 1282.1,1727.5 1275.4,1727.7 1268.7,1727.8" fill="none" stroke="#b5560f" stroke-width="5" stroke-linejoin="round" marker-start="url(#rbrD)" marker-mid="url(#rbrD)" marker-end="url(#rbrD)"/>
<polyline points="1268.7,1720.5 1275.4,1720.5 1282.1,1720.5 1288.8,1720.5 1295.5,1720.4 1302.2,1720.4 1308.9,1720.4 1315.6,1720.4 1322.3,1720.4 1329,1720.3 1335.7,1720.3 1342.4,1720.3 1349.1,1720.2 1355.8,1720.2 1362.5,1720.2 1369.2,1720.2 1375.9,1720.1 1382.6,1720.1 1389.3,1720.1 1396,1720 1402.7,1720 1409.4,1719.9 1416.1,1719.9 1422.8,1719.9 1429.5,1719.8 1436.2,1719.8 1442.9,1719.7 1449.6,1719.7 1456.3,1719.6 1463,1719.6 1469.7,1719.5 1476.4,1719.4 1483.1,1719.4 1489.8,1719.3 1496.5,1719.2 1503.2,1719.2 1509.9,1719.1 1516.6,1719 1523.3,1719 1530,1718.9 1536.7,1718.8 1543.4,1718.7 1550.1,1718.6 1556.8,1718.6 1563.5,1718.5 1570.2,1718.4 1576.9,1718.3 1583.6,1718.2 1590.3,1718.1 1597,1718 1603.7,1717.9 1610.4,1717.9 1617.1,1717.8 1623.8,1717.6 1630.5,1717.5 1637.2,1717.4 1643.9,1717.3 1650.6,1717.2 1657.3,1717 1664,1716.9 1670.7,1716.8 1677.4,1716.6 1684.1,1716.5 1690.8,1716.3 1697.5,1716.2 1704.2,1716 1710.9,1715.9 1717.6,1715.7 1724.3,1715.6 1731,1715.4 1737.7,1715.3 1744.4,1715.1 1751.1,1715 1757.8,1714.9 1764.5,1714.7 1771.2,1714.6 1777.9,1714.4 1784.6,1714.3 1791.3,1714.2 1798,1714 1804.7,1713.9 1811.4,1713.8 1818.1,1713.7 1824.8,1713.5 1831.5,1713.4 1838.2,1713.3 1844.9,1713.2 1851.6,1713 1858.3,1712.9 1865,1712.8 1871.7,1712.6 1878.4,1712.5 1885.1,1712.4 1891.8,1712.3 1898.5,1712.1 1905.2,1712 1911.9,1711.9 1918.6,1711.8 1925.3,1711.7 1932,1711.5 1938.7,1711.4 1945.4,1711.3 1952.1,1711.2 1958.8,1711.1 1965.5,1711 1972.2,1710.9 1978.9,1710.8 1985.6,1710.7 1992.3,1710.6 1999,1710.5 2005.7,1710.4 2012.4,1710.3 2019.1,1710.2 2025.8,1710.2 2032.5,1710.1 2039.2,1710 2045.9,1709.9 2052.6,1709.8 2059.3,1709.7 2066,1709.6 2072.7,1709.6 2079.4,1709.5 2086.1,1709.4 2092.8,1709.3 2099.5,1709.2 2106.2,1709.2 2112.9,1709.1 2119.6,1709 2126.3,1708.9 2133,1708.9 2139.7,1708.8 2146.4,1708.7 2153.1,1708.6 2159.8,1708.6 2166.5,1708.5 2173.2,1708.4 2179.9,1708.4 2186.6,1708.3 2193.3,1708.2 2200,1708.2 2206.7,1708.1 2213.4,1708.1 2220.1,1708 2226.8,1707.9 2233.5,1707.9 2240.2,1707.8 2246.9,1707.8 2253.6,1707.7 2260.3,1707.7 2267,1707.6 2273.7,1707.6" fill="none" stroke="#8b068b" stroke-width="11" stroke-linejoin="round" stroke-linecap="round" />
<polyline points="1268.7,1719.2 1275.4,1719.1 1282.1,1719 1288.8,1718.9 1295.5,1718.9 1302.2,1718.8 1308.9,1718.7 1315.6,1718.6 1322.3,1718.5 1329,1718.4 1335.7,1718.2 1342.4,1718.1 1349.1,1717.9 1355.8,1717.7 1362.5,1717.5 1369.2,1717.3 1375.9,1717 1382.6,1716.6 1389.3,1716.2 1396,1715.6 1402.7,1714.9 1409.4,1714 1416.1,1712.9 1422.8,1711.5 1429.5,1709.6 1436.2,1707.2 1442.9,1704.2 1449.6,1700.5 1456.3,1695.8 1463,1690 1469.7,1682.9 1476.4,1674.3 1483.1,1664 1489.8,1651.7 1496.5,1637.3 1503.2,1620.6 1509.9,1601.5 1516.6,1579.9 1523.3,1555.7 1530,1529 1536.7,1500 1543.4,1469 1550.1,1436.3 1556.8,1402.3 1563.5,1367.7 1570.2,1333.2 1576.9,1299.3 1583.6,1267 1590.3,1237 1597,1210.1 1603.7,1187.2 1610.4,1168.8 1617.1,1155.5 1623.8,1147.8 1630.5,1145.9 1637.2,1149.8 1643.9,1159.4 1650.6,1174.4 1657.3,1195.1 1664,1221.5 1670.7,1252.6 1677.4,1287.2 1684.1,1324.3 1690.8,1362.6 1697.5,1400.9 1704.2,1438.2 1710.9,1473.7 1717.6,1506.8 1724.3,1536.8 1731,1563.5 1737.7,1586.9 1744.4,1606.8 1751.1,1623.6 1757.8,1637.5 1764.5,1648.7 1771.2,1657.6 1777.9,1664.6 1784.6,1669.9 1791.3,1673.9 1798,1676.8 1804.7,1678.8 1811.4,1680.2 1818.1,1681.1 1824.8,1681.6 1831.5,1681.8 1838.2,1681.9 1844.9,1681.8 1851.6,1681.6 1858.3,1681.3 1865,1681 1871.7,1680.7 1878.4,1680.4 1885.1,1680.2 1891.8,1679.9 1898.5,1679.7 1905.2,1679.4 1911.9,1679.3 1918.6,1679.1 1925.3,1679 1932,1679 1938.7,1679 1945.4,1679 1952.1,1679.1 1958.8,1679.2 1965.5,1679.3 1972.2,1679.5 1978.9,1679.8 1985.6,1680 1992.3,1680.3 1999,1680.7 2005.7,1681.1 2012.4,1681.5 2019.1,1681.9 2025.8,1682.4 2032.5,1682.9 2039.2,1683.4 2045.9,1684 2052.6,1684.5 2059.3,1685.1 2066,1685.7 2072.7,1686.3 2079.4,1686.9 2086.1,1687.6 2092.8,1688.2 2099.5,1688.8 2106.2,1689.5 2112.9,1690.1 2119.6,1690.8 2126.3,1691.4 2133,1692.1 2139.7,1692.7 2146.4,1693.3 2153.1,1693.9 2159.8,1694.5 2166.5,1695.1 2173.2,1695.7 2179.9,1696.3 2186.6,1696.8 2193.3,1697.3 2200,1697.9 2206.7,1698.4 2213.4,1698.8 2220.1,1699.3 2226.8,1699.8 2233.5,1700.2 2240.2,1700.6 2246.9,1701 2253.6,1701.4 2260.3,1701.7 2267,1702.1 2273.7,1702.4" fill="none" stroke="#1170b8" stroke-width="4.6" stroke-linejoin="round" stroke-linecap="round" />
</g>
<line x1="1335.7" y1="1749.6" x2="1335.7" y2="1766.6" stroke="#000" stroke-width="6.4"/>
<line x1="1536.7" y1="1749.6" x2="1536.7" y2="1766.6" stroke="#000" stroke-width="6.4"/>
<line x1="1737.7" y1="1749.6" x2="1737.7" y2="1766.6" stroke="#000" stroke-width="6.4"/>
<line x1="1938.7" y1="1749.6" x2="1938.7" y2="1766.6" stroke="#000" stroke-width="6.4"/>
<line x1="2139.7" y1="1749.6" x2="2139.7" y2="1766.6" stroke="#000" stroke-width="6.4"/>
<line x1="1436.2" y1="1749.6" x2="1436.2" y2="1756.6" stroke="#000" stroke-width="6.4"/>
<line x1="1637.2" y1="1749.6" x2="1637.2" y2="1756.6" stroke="#000" stroke-width="6.4"/>
<line x1="1838.2" y1="1749.6" x2="1838.2" y2="1756.6" stroke="#000" stroke-width="6.4"/>
<line x1="2039.2" y1="1749.6" x2="2039.2" y2="1756.6" stroke="#000" stroke-width="6.4"/>
<line x1="2240.2" y1="1749.6" x2="2240.2" y2="1756.6" stroke="#000" stroke-width="6.4"/>
<text x="1335.7" y="1822.5" font-size="55" fill="#000" text-anchor="middle" font-weight="bold" >129</text>
<text x="1536.7" y="1822.5" font-size="55" fill="#000" text-anchor="middle" font-weight="bold" >132</text>
<text x="1737.7" y="1822.5" font-size="55" fill="#000" text-anchor="middle" font-weight="bold" >135</text>
<text x="1938.7" y="1822.5" font-size="55" fill="#000" text-anchor="middle" font-weight="bold" >138</text>
<text x="2139.7" y="1822.5" font-size="55" fill="#000" text-anchor="middle" font-weight="bold" >141</text>
<text x="1771.5" y="1892.3" font-size="59.5" fill="#000" text-anchor="middle" font-weight="bold" >Binding energy (eV)</text>
<text transform="translate(1222.9,1361) rotate(-90)" font-size="59.5" text-anchor="middle">Intensity (a.u.)</text>
<text x="1297.2" y="1069.7" font-size="76" fill="#000" text-anchor="start" font-weight="bold" >(d)</text>
<text x="2224.6" y="1050.3" font-size="46.5" fill="#000" text-anchor="end" font-weight="bold" >P 2p</text>
<text x="1427" y="1224.3" font-size="46" fill="#f28b30" text-anchor="start" font-weight="bold" >2P<tspan font-size="30" dy="12.5" dx="1">3/2</tspan></text>
<line x1="1510" y1="1262.3" x2="1570.7" y2="1328.1" stroke="#f28b30" stroke-width="4" stroke-linecap="round"/>
<polygon points="1587,1345.7 1563.3,1332.2 1575.4,1321" fill="#f28b30"/>
<text x="1724" y="1397" font-size="46" fill="#0a8a0a" text-anchor="start" font-weight="bold" >2P<tspan font-size="30" dy="11.6" dx="1">1/2</tspan></text>
<line x1="1738.6" y1="1417" x2="1667.9" y2="1488.6" stroke="#0a8a0a" stroke-width="4" stroke-linecap="round"/>
<polygon points="1651,1505.7 1663.4,1481.4 1675.1,1493" fill="#0a8a0a"/>
<text x="1895.6" y="1597" font-size="46" fill="#b5560f" text-anchor="start" font-weight="bold" >P<tspan font-weight="normal" dx="5">–</tspan><tspan dx="1.8">O</tspan></text>
<line x1="1934.3" y1="1611.4" x2="1896.9" y2="1663.4" stroke="#b5560f" stroke-width="4" stroke-linecap="round"/>
<polygon points="1882.9,1682.9 1891.4,1657 1904.8,1666.6" fill="#b5560f"/>
</g>
</g>
</svg>
</body></html>
